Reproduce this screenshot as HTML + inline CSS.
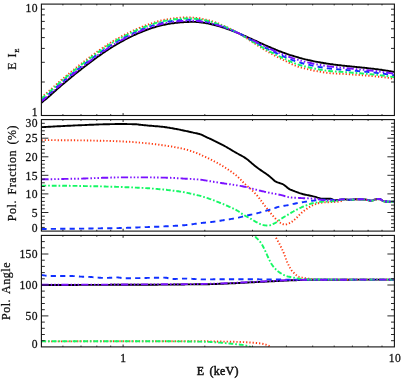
<!DOCTYPE html>
<html><head><meta charset="utf-8"><title>plot</title>
<style>
html,body{margin:0;padding:0;background:#fff;}
svg{display:block;}
.lab{filter:grayscale(1);}
text{font-family:"Liberation Serif",serif;fill:#111;}
.tl{font-size:11.6px;letter-spacing:0.35px;stroke:#111;stroke-width:0.26px;}
.tt{font-size:12px;letter-spacing:0.55px;word-spacing:2px;stroke:#111;stroke-width:0.27px;}
</style></head><body>
<svg width="415" height="386" viewBox="0 0 415 386">
<rect width="415" height="386" fill="#fff"/>
<defs><clipPath id="c1"><rect x="41.4" y="4.1" width="353.0" height="111.4"/></clipPath><clipPath id="c2"><rect x="41.4" y="119.6" width="353.0" height="111.5"/></clipPath><clipPath id="c3"><rect x="41.4" y="235.4" width="353.0" height="111.5"/></clipPath></defs>
<g stroke-linecap="butt" stroke-linejoin="round">
<path d="M41.4 102.8 L42.4 102.0 L43.4 101.1 L44.4 100.3 L45.4 99.5 L46.4 98.7 L47.4 97.8 L48.4 97.0 L49.4 96.1 L50.4 95.2 L51.4 94.3 L52.4 93.4 L53.4 92.5 L54.4 91.6 L55.4 90.7 L56.4 89.8 L57.4 88.9 L58.4 88.0 L59.4 87.2 L60.4 86.3 L61.4 85.4 L62.4 84.6 L63.4 83.7 L64.4 82.9 L65.4 82.1 L66.4 81.2 L67.4 80.4 L68.4 79.6 L69.4 78.7 L70.4 77.9 L71.4 77.1 L72.4 76.3 L73.4 75.5 L74.4 74.6 L75.4 73.8 L76.4 73.0 L77.4 72.2 L78.4 71.4 L79.4 70.6 L80.4 69.9 L81.4 69.1 L82.4 68.3 L83.4 67.5 L84.4 66.7 L85.4 66.0 L86.4 65.2 L87.4 64.4 L88.4 63.7 L89.4 62.9 L90.4 62.2 L91.4 61.4 L92.4 60.7 L93.4 59.9 L94.4 59.2 L95.4 58.5 L96.4 57.7 L97.4 57.0 L98.4 56.3 L99.4 55.6 L100.4 54.9 L101.4 54.2 L102.4 53.5 L103.4 52.8 L104.4 52.1 L105.4 51.4 L106.4 50.8 L107.4 50.1 L108.4 49.5 L109.4 48.8 L110.4 48.2 L111.4 47.5 L112.4 46.9 L113.4 46.3 L114.4 45.7 L115.4 45.1 L116.4 44.5 L117.4 43.9 L118.4 43.3 L119.4 42.8 L120.4 42.2 L121.4 41.6 L122.4 41.1 L123.4 40.6 L124.4 40.0 L125.4 39.5 L126.4 39.0 L127.4 38.5 L128.4 38.0 L129.4 37.5 L130.4 37.0 L131.4 36.5 L132.4 36.0 L133.4 35.5 L134.4 35.0 L135.4 34.6 L136.4 34.1 L137.4 33.7 L138.4 33.2 L139.4 32.8 L140.4 32.4 L141.4 32.0 L142.4 31.6 L143.4 31.2 L144.4 30.8 L145.4 30.4 L146.4 30.0 L147.4 29.6 L148.4 29.3 L149.4 28.9 L150.4 28.6 L151.4 28.2 L152.4 27.9 L153.4 27.6 L154.4 27.3 L155.4 27.0 L156.4 26.7 L157.4 26.4 L158.4 26.1 L159.4 25.8 L160.4 25.6 L161.4 25.3 L162.4 25.1 L163.4 24.9 L164.4 24.7 L165.4 24.5 L166.4 24.3 L167.4 24.1 L168.4 23.9 L169.4 23.8 L170.4 23.6 L171.4 23.4 L172.4 23.3 L173.4 23.2 L174.4 23.0 L175.4 22.9 L176.4 22.8 L177.4 22.7 L178.4 22.6 L179.4 22.5 L180.4 22.4 L181.4 22.3 L182.4 22.2 L183.4 22.2 L184.4 22.1 L185.4 22.1 L186.4 22.1 L187.4 22.0 L188.4 22.0 L189.4 21.9 L190.4 21.9 L191.4 21.9 L192.4 21.9 L193.4 21.9 L194.4 21.9 L195.4 21.9 L196.4 22.0 L197.4 22.0 L198.4 22.1 L199.4 22.2 L200.4 22.3 L201.4 22.5 L202.4 22.6 L203.4 22.7 L204.4 22.9 L205.4 23.1 L206.4 23.2 L207.4 23.4 L208.4 23.6 L209.4 23.8 L210.4 24.0 L211.4 24.3 L212.4 24.5 L213.4 24.7 L214.4 25.0 L215.4 25.2 L216.4 25.5 L217.4 25.8 L218.4 26.1 L219.4 26.4 L220.4 26.7 L221.4 27.0 L222.4 27.3 L223.4 27.6 L224.4 27.9 L225.4 28.3 L226.4 28.6 L227.4 29.0 L228.4 29.3 L229.4 29.7 L230.4 30.1 L231.4 30.4 L232.4 30.8 L233.4 31.2 L234.4 31.6 L235.4 32.0 L236.4 32.4 L237.4 32.8 L238.4 33.2 L239.4 33.6 L240.4 34.1 L241.4 34.5 L242.4 34.9 L243.4 35.4 L244.4 35.8 L245.4 36.2 L246.4 36.7 L247.4 37.1 L248.4 37.6 L249.4 38.0 L250.4 38.5 L251.4 38.9 L252.4 39.4 L253.4 39.8 L254.4 40.3 L255.4 40.7 L256.4 41.2 L257.4 41.7 L258.4 42.1 L259.4 42.6 L260.4 43.0 L261.4 43.5 L262.4 43.9 L263.4 44.4 L264.4 44.8 L265.4 45.3 L266.4 45.7 L267.4 46.1 L268.4 46.6 L269.4 47.0 L270.4 47.4 L271.4 47.9 L272.4 48.3 L273.4 48.7 L274.4 49.1 L275.4 49.5 L276.4 50.0 L277.4 50.4 L278.4 50.8 L279.4 51.2 L280.4 51.5 L281.4 51.9 L282.4 52.3 L283.4 52.7 L284.4 53.0 L285.4 53.4 L286.4 53.7 L287.4 54.1 L288.4 54.4 L289.4 54.8 L290.4 55.1 L291.4 55.4 L292.4 55.7 L293.4 56.0 L294.4 56.3 L295.4 56.6 L296.4 56.9 L297.4 57.2 L298.4 57.5 L299.4 57.8 L300.4 58.1 L301.4 58.3 L302.4 58.6 L303.4 58.9 L304.4 59.1 L305.4 59.4 L306.4 59.6 L307.4 59.8 L308.4 60.1 L309.4 60.3 L310.4 60.5 L311.4 60.7 L312.4 60.9 L313.4 61.2 L314.4 61.4 L315.4 61.6 L316.4 61.8 L317.4 61.9 L318.4 62.1 L319.4 62.3 L320.4 62.5 L321.4 62.7 L322.4 62.8 L323.4 63.0 L324.4 63.2 L325.4 63.3 L326.4 63.5 L327.4 63.6 L328.4 63.8 L329.4 63.9 L330.4 64.1 L331.4 64.2 L332.4 64.3 L333.4 64.5 L334.4 64.6 L335.4 64.7 L336.4 64.9 L337.4 65.0 L338.4 65.1 L339.4 65.2 L340.4 65.3 L341.4 65.4 L342.4 65.6 L343.4 65.7 L344.4 65.8 L345.4 65.9 L346.4 66.0 L347.4 66.1 L348.4 66.2 L349.4 66.3 L350.4 66.4 L351.4 66.5 L352.4 66.6 L353.4 66.7 L354.4 66.8 L355.4 66.9 L356.4 67.0 L357.4 67.1 L358.4 67.2 L359.4 67.3 L360.4 67.4 L361.4 67.5 L362.4 67.6 L363.4 67.7 L364.4 67.8 L365.4 67.9 L366.4 68.0 L367.4 68.1 L368.4 68.3 L369.4 68.4 L370.4 68.5 L371.4 68.6 L372.4 68.7 L373.4 68.8 L374.4 68.9 L375.4 69.1 L376.4 69.2 L377.4 69.3 L378.4 69.4 L379.4 69.6 L380.4 69.7 L381.4 69.8 L382.4 70.0 L383.4 70.1 L384.4 70.3 L385.4 70.4 L386.4 70.6 L387.4 70.7 L388.4 70.9 L389.4 71.1 L390.4 71.2 L391.4 71.4 L392.4 71.6 L393.4 71.8 L394.4 71.9" fill="none" stroke="#000000" stroke-width="1.9" clip-path="url(#c1)"/>
<path d="M41.4 97.4 L42.4 96.5 L43.4 95.7 L44.4 94.9 L45.4 94.1 L46.4 93.2 L47.4 92.4 L48.4 91.5 L49.4 90.6 L50.4 89.8 L51.4 88.9 L52.4 88.0 L53.4 87.1 L54.4 86.2 L55.4 85.3 L56.4 84.4 L57.4 83.5 L58.4 82.6 L59.4 81.7 L60.4 80.8 L61.4 79.9 L62.4 79.1 L63.4 78.3 L64.4 77.4 L65.4 76.6 L66.4 75.7 L67.4 74.9 L68.4 74.1 L69.4 73.2 L70.4 72.4 L71.4 71.6 L72.4 70.8 L73.4 70.0 L74.4 69.1 L75.4 68.3 L76.4 67.5 L77.4 66.7 L78.4 65.9 L79.4 65.1 L80.4 64.3 L81.4 63.6 L82.4 62.8 L83.4 62.0 L84.4 61.2 L85.4 60.5 L86.4 59.7 L87.4 58.9 L88.4 58.2 L89.4 57.4 L90.4 56.7 L91.4 55.9 L92.4 55.2 L93.4 54.4 L94.4 53.7 L95.4 53.0 L96.4 52.2 L97.4 51.5 L98.4 50.8 L99.4 50.1 L100.4 49.4 L101.4 48.7 L102.4 48.0 L103.4 47.3 L104.4 46.6 L105.4 46.0 L106.4 45.3 L107.4 44.6 L108.4 44.0 L109.4 43.4 L110.4 42.7 L111.4 42.1 L112.4 41.5 L113.4 40.9 L114.4 40.3 L115.4 39.7 L116.4 39.1 L117.4 38.6 L118.4 38.0 L119.4 37.5 L120.4 36.9 L121.4 36.4 L122.4 35.9 L123.4 35.4 L124.4 34.9 L125.4 34.3 L126.4 33.8 L127.4 33.4 L128.4 32.9 L129.4 32.4 L130.4 31.9 L131.4 31.4 L132.4 31.0 L133.4 30.5 L134.4 30.0 L135.4 29.6 L136.4 29.2 L137.4 28.7 L138.4 28.3 L139.4 27.9 L140.4 27.5 L141.4 27.0 L142.4 26.6 L143.4 26.2 L144.4 25.9 L145.4 25.5 L146.4 25.1 L147.4 24.7 L148.4 24.4 L149.4 24.0 L150.4 23.7 L151.4 23.4 L152.4 23.0 L153.4 22.7 L154.4 22.4 L155.4 22.1 L156.4 21.8 L157.4 21.5 L158.4 21.3 L159.4 21.0 L160.4 20.7 L161.4 20.5 L162.4 20.3 L163.4 20.0 L164.4 19.8 L165.4 19.6 L166.4 19.4 L167.4 19.3 L168.4 19.1 L169.4 18.9 L170.4 18.8 L171.4 18.6 L172.4 18.5 L173.4 18.4 L174.4 18.2 L175.4 18.1 L176.4 18.0 L177.4 17.9 L178.4 17.8 L179.4 17.7 L180.4 17.6 L181.4 17.6 L182.4 17.5 L183.4 17.5 L184.4 17.5 L185.4 17.5 L186.4 17.5 L187.4 17.5 L188.4 17.5 L189.4 17.5 L190.4 17.5 L191.4 17.5 L192.4 17.6 L193.4 17.6 L194.4 17.7 L195.4 17.8 L196.4 17.9 L197.4 18.0 L198.4 18.2 L199.4 18.3 L200.4 18.5 L201.4 18.7 L202.4 18.9 L203.4 19.1 L204.4 19.3 L205.4 19.5 L206.4 19.8 L207.4 20.0 L208.4 20.3 L209.4 20.5 L210.4 20.8 L211.4 21.1 L212.4 21.4 L213.4 21.8 L214.4 22.1 L215.4 22.4 L216.4 22.8 L217.4 23.2 L218.4 23.5 L219.4 23.9 L220.4 24.3 L221.4 24.8 L222.4 25.2 L223.4 25.6 L224.4 26.1 L225.4 26.5 L226.4 27.0 L227.4 27.5 L228.4 27.9 L229.4 28.4 L230.4 28.9 L231.4 29.4 L232.4 29.9 L233.4 30.4 L234.4 30.9 L235.4 31.5 L236.4 32.0 L237.4 32.6 L238.4 33.1 L239.4 33.7 L240.4 34.3 L241.4 34.9 L242.4 35.5 L243.4 36.1 L244.4 36.8 L245.4 37.4 L246.4 38.1 L247.4 38.7 L248.4 39.4 L249.4 40.1 L250.4 40.8 L251.4 41.4 L252.4 42.1 L253.4 42.7 L254.4 43.4 L255.4 44.0 L256.4 44.7 L257.4 45.3 L258.4 45.9 L259.4 46.6 L260.4 47.2 L261.4 47.8 L262.4 48.4 L263.4 49.1 L264.4 49.7 L265.4 50.3 L266.4 50.9 L267.4 51.5 L268.4 52.0 L269.4 52.6 L270.4 53.2 L271.4 53.7 L272.4 54.3 L273.4 54.8 L274.4 55.4 L275.4 55.9 L276.4 56.4 L277.4 57.0 L278.4 57.5 L279.4 58.0 L280.4 58.5 L281.4 59.0 L282.4 59.5 L283.4 60.0 L284.4 60.5 L285.4 61.0 L286.4 61.5 L287.4 62.0 L288.4 62.5 L289.4 63.0 L290.4 63.4 L291.4 63.9 L292.4 64.4 L293.4 64.8 L294.4 65.3 L295.4 65.7 L296.4 66.1 L297.4 66.4 L298.4 66.8 L299.4 67.1 L300.4 67.4 L301.4 67.6 L302.4 67.9 L303.4 68.2 L304.4 68.4 L305.4 68.7 L306.4 68.9 L307.4 69.1 L308.4 69.4 L309.4 69.6 L310.4 69.8 L311.4 70.0 L312.4 70.2 L313.4 70.5 L314.4 70.7 L315.4 70.9 L316.4 71.1 L317.4 71.2 L318.4 71.4 L319.4 71.6 L320.4 71.8 L321.4 72.0 L322.4 72.1 L323.4 72.3 L324.4 72.5 L325.4 72.6 L326.4 72.7 L327.4 72.9 L328.4 73.0 L329.4 73.1 L330.4 73.2 L331.4 73.3 L332.4 73.3 L333.4 73.4 L334.4 73.5 L335.4 73.5 L336.4 73.6 L337.4 73.6 L338.4 73.7 L339.4 73.7 L340.4 73.8 L341.4 73.8 L342.4 73.8 L343.4 73.9 L344.4 73.9 L345.4 74.0 L346.4 74.1 L347.4 74.1 L348.4 74.2 L349.4 74.3 L350.4 74.3 L351.4 74.4 L352.4 74.5 L353.4 74.5 L354.4 74.6 L355.4 74.7 L356.4 74.8 L357.4 74.8 L358.4 74.9 L359.4 75.0 L360.4 75.1 L361.4 75.2 L362.4 75.2 L363.4 75.3 L364.4 75.4 L365.4 75.5 L366.4 75.6 L367.4 75.7 L368.4 75.7 L369.4 75.8 L370.4 75.9 L371.4 76.0 L372.4 76.1 L373.4 76.2 L374.4 76.3 L375.4 76.4 L376.4 76.5 L377.4 76.6 L378.4 76.7 L379.4 76.8 L380.4 76.9 L381.4 77.0 L382.4 77.1 L383.4 77.3 L384.4 77.4 L385.4 77.5 L386.4 77.7 L387.4 77.8 L388.4 77.9 L389.4 78.1 L390.4 78.2 L391.4 78.4 L392.4 78.5 L393.4 78.7 L394.4 78.8" fill="none" stroke="#ff3a10" stroke-width="1.9" stroke-dasharray="1.25 2.0" clip-path="url(#c1)"/>
<path d="M41.4 100.1 L42.4 99.2 L43.4 98.4 L44.4 97.6 L45.4 96.8 L46.4 95.9 L47.4 95.1 L48.4 94.2 L49.4 93.4 L50.4 92.5 L51.4 91.6 L52.4 90.7 L53.4 89.8 L54.4 88.9 L55.4 88.0 L56.4 87.1 L57.4 86.2 L58.4 85.3 L59.4 84.4 L60.4 83.5 L61.4 82.7 L62.4 81.8 L63.4 81.0 L64.4 80.2 L65.4 79.3 L66.4 78.5 L67.4 77.7 L68.4 76.8 L69.4 76.0 L70.4 75.2 L71.4 74.3 L72.4 73.5 L73.4 72.7 L74.4 71.9 L75.4 71.1 L76.4 70.3 L77.4 69.5 L78.4 68.7 L79.4 67.9 L80.4 67.1 L81.4 66.3 L82.4 65.5 L83.4 64.8 L84.4 64.0 L85.4 63.2 L86.4 62.4 L87.4 61.7 L88.4 60.9 L89.4 60.2 L90.4 59.4 L91.4 58.7 L92.4 57.9 L93.4 57.2 L94.4 56.5 L95.4 55.7 L96.4 55.0 L97.4 54.3 L98.4 53.6 L99.4 52.8 L100.4 52.1 L101.4 51.4 L102.4 50.7 L103.4 50.0 L104.4 49.4 L105.4 48.7 L106.4 48.0 L107.4 47.4 L108.4 46.7 L109.4 46.1 L110.4 45.5 L111.4 44.8 L112.4 44.2 L113.4 43.6 L114.4 43.0 L115.4 42.4 L116.4 41.8 L117.4 41.2 L118.4 40.7 L119.4 40.1 L120.4 39.6 L121.4 39.0 L122.4 38.5 L123.4 38.0 L124.4 37.4 L125.4 36.9 L126.4 36.4 L127.4 35.9 L128.4 35.4 L129.4 34.9 L130.4 34.4 L131.4 34.0 L132.4 33.5 L133.4 33.0 L134.4 32.5 L135.4 32.1 L136.4 31.6 L137.4 31.2 L138.4 30.8 L139.4 30.3 L140.4 29.9 L141.4 29.5 L142.4 29.1 L143.4 28.7 L144.4 28.3 L145.4 27.9 L146.4 27.6 L147.4 27.2 L148.4 26.8 L149.4 26.5 L150.4 26.1 L151.4 25.8 L152.4 25.5 L153.4 25.2 L154.4 24.8 L155.4 24.5 L156.4 24.2 L157.4 24.0 L158.4 23.7 L159.4 23.4 L160.4 23.2 L161.4 22.9 L162.4 22.7 L163.4 22.5 L164.4 22.3 L165.4 22.0 L166.4 21.9 L167.4 21.7 L168.4 21.5 L169.4 21.3 L170.4 21.2 L171.4 21.0 L172.4 20.9 L173.4 20.8 L174.4 20.6 L175.4 20.5 L176.4 20.4 L177.4 20.3 L178.4 20.2 L179.4 20.1 L180.4 20.0 L181.4 19.9 L182.4 19.9 L183.4 19.8 L184.4 19.8 L185.4 19.8 L186.4 19.8 L187.4 19.7 L188.4 19.7 L189.4 19.7 L190.4 19.7 L191.4 19.7 L192.4 19.7 L193.4 19.8 L194.4 19.8 L195.4 19.9 L196.4 19.9 L197.4 20.0 L198.4 20.2 L199.4 20.3 L200.4 20.4 L201.4 20.6 L202.4 20.7 L203.4 20.9 L204.4 21.1 L205.4 21.3 L206.4 21.5 L207.4 21.7 L208.4 21.9 L209.4 22.2 L210.4 22.4 L211.4 22.7 L212.4 23.0 L213.4 23.2 L214.4 23.5 L215.4 23.8 L216.4 24.2 L217.4 24.5 L218.4 24.8 L219.4 25.1 L220.4 25.5 L221.4 25.9 L222.4 26.2 L223.4 26.6 L224.4 27.0 L225.4 27.4 L226.4 27.8 L227.4 28.2 L228.4 28.6 L229.4 29.1 L230.4 29.5 L231.4 29.9 L232.4 30.4 L233.4 30.8 L234.4 31.3 L235.4 31.7 L236.4 32.2 L237.4 32.7 L238.4 33.2 L239.4 33.7 L240.4 34.2 L241.4 34.7 L242.4 35.2 L243.4 35.8 L244.4 36.3 L245.4 36.8 L246.4 37.4 L247.4 37.9 L248.4 38.5 L249.4 39.1 L250.4 39.6 L251.4 40.2 L252.4 40.7 L253.4 41.3 L254.4 41.8 L255.4 42.4 L256.4 42.9 L257.4 43.5 L258.4 44.0 L259.4 44.6 L260.4 45.1 L261.4 45.6 L262.4 46.2 L263.4 46.7 L264.4 47.2 L265.4 47.8 L266.4 48.3 L267.4 48.8 L268.4 49.3 L269.4 49.8 L270.4 50.3 L271.4 50.8 L272.4 51.3 L273.4 51.8 L274.4 52.3 L275.4 52.7 L276.4 53.2 L277.4 53.7 L278.4 54.1 L279.4 54.6 L280.4 55.0 L281.4 55.5 L282.4 55.9 L283.4 56.3 L284.4 56.8 L285.4 57.2 L286.4 57.6 L287.4 58.0 L288.4 58.4 L289.4 58.9 L290.4 59.3 L291.4 59.7 L292.4 60.1 L293.4 60.4 L294.4 60.8 L295.4 61.2 L296.4 61.5 L297.4 61.8 L298.4 62.1 L299.4 62.4 L300.4 62.7 L301.4 63.0 L302.4 63.2 L303.4 63.5 L304.4 63.8 L305.4 64.0 L306.4 64.2 L307.4 64.5 L308.4 64.7 L309.4 64.9 L310.4 65.2 L311.4 65.4 L312.4 65.6 L313.4 65.8 L314.4 66.0 L315.4 66.2 L316.4 66.4 L317.4 66.6 L318.4 66.8 L319.4 67.0 L320.4 67.1 L321.4 67.3 L322.4 67.5 L323.4 67.7 L324.4 67.8 L325.4 68.0 L326.4 68.1 L327.4 68.3 L328.4 68.4 L329.4 68.5 L330.4 68.6 L331.4 68.7 L332.4 68.8 L333.4 68.9 L334.4 69.0 L335.4 69.1 L336.4 69.2 L337.4 69.3 L338.4 69.4 L339.4 69.5 L340.4 69.5 L341.4 69.6 L342.4 69.7 L343.4 69.8 L344.4 69.9 L345.4 69.9 L346.4 70.0 L347.4 70.1 L348.4 70.2 L349.4 70.3 L350.4 70.4 L351.4 70.5 L352.4 70.5 L353.4 70.6 L354.4 70.7 L355.4 70.8 L356.4 70.9 L357.4 71.0 L358.4 71.1 L359.4 71.2 L360.4 71.2 L361.4 71.3 L362.4 71.4 L363.4 71.5 L364.4 71.6 L365.4 71.7 L366.4 71.8 L367.4 71.9 L368.4 72.0 L369.4 72.1 L370.4 72.2 L371.4 72.3 L372.4 72.4 L373.4 72.5 L374.4 72.6 L375.4 72.7 L376.4 72.8 L377.4 73.0 L378.4 73.1 L379.4 73.2 L380.4 73.3 L381.4 73.4 L382.4 73.6 L383.4 73.7 L384.4 73.8 L385.4 74.0 L386.4 74.1 L387.4 74.3 L388.4 74.4 L389.4 74.6 L390.4 74.7 L391.4 74.9 L392.4 75.1 L393.4 75.2 L394.4 75.4" fill="none" stroke="#1030ff" stroke-width="1.9" stroke-dasharray="5.2 4.2" clip-path="url(#c1)"/>
<path d="M41.4 98.6 L42.4 97.8 L43.4 97.0 L44.4 96.1 L45.4 95.3 L46.4 94.5 L47.4 93.6 L48.4 92.8 L49.4 91.9 L50.4 91.0 L51.4 90.1 L52.4 89.2 L53.4 88.3 L54.4 87.4 L55.4 86.5 L56.4 85.6 L57.4 84.7 L58.4 83.8 L59.4 82.9 L60.4 82.1 L61.4 81.2 L62.4 80.4 L63.4 79.5 L64.4 78.7 L65.4 77.8 L66.4 77.0 L67.4 76.2 L68.4 75.3 L69.4 74.5 L70.4 73.7 L71.4 72.9 L72.4 72.0 L73.4 71.2 L74.4 70.4 L75.4 69.6 L76.4 68.8 L77.4 68.0 L78.4 67.2 L79.4 66.4 L80.4 65.6 L81.4 64.8 L82.4 64.0 L83.4 63.3 L84.4 62.5 L85.4 61.7 L86.4 61.0 L87.4 60.2 L88.4 59.4 L89.4 58.7 L90.4 57.9 L91.4 57.2 L92.4 56.4 L93.4 55.7 L94.4 55.0 L95.4 54.2 L96.4 53.5 L97.4 52.8 L98.4 52.1 L99.4 51.4 L100.4 50.6 L101.4 49.9 L102.4 49.2 L103.4 48.6 L104.4 47.9 L105.4 47.2 L106.4 46.6 L107.4 45.9 L108.4 45.3 L109.4 44.6 L110.4 44.0 L111.4 43.4 L112.4 42.8 L113.4 42.1 L114.4 41.5 L115.4 41.0 L116.4 40.4 L117.4 39.8 L118.4 39.2 L119.4 38.7 L120.4 38.2 L121.4 37.6 L122.4 37.1 L123.4 36.6 L124.4 36.0 L125.4 35.5 L126.4 35.0 L127.4 34.5 L128.4 34.0 L129.4 33.6 L130.4 33.1 L131.4 32.6 L132.4 32.1 L133.4 31.7 L134.4 31.2 L135.4 30.7 L136.4 30.3 L137.4 29.9 L138.4 29.4 L139.4 29.0 L140.4 28.6 L141.4 28.2 L142.4 27.8 L143.4 27.4 L144.4 27.0 L145.4 26.6 L146.4 26.2 L147.4 25.9 L148.4 25.5 L149.4 25.2 L150.4 24.8 L151.4 24.5 L152.4 24.2 L153.4 23.8 L154.4 23.5 L155.4 23.2 L156.4 22.9 L157.4 22.6 L158.4 22.4 L159.4 22.1 L160.4 21.9 L161.4 21.6 L162.4 21.4 L163.4 21.2 L164.4 20.9 L165.4 20.7 L166.4 20.6 L167.4 20.4 L168.4 20.2 L169.4 20.0 L170.4 19.9 L171.4 19.7 L172.4 19.6 L173.4 19.5 L174.4 19.3 L175.4 19.2 L176.4 19.1 L177.4 19.0 L178.4 18.9 L179.4 18.8 L180.4 18.7 L181.4 18.7 L182.4 18.6 L183.4 18.6 L184.4 18.5 L185.4 18.5 L186.4 18.5 L187.4 18.5 L188.4 18.5 L189.4 18.5 L190.4 18.5 L191.4 18.5 L192.4 18.6 L193.4 18.6 L194.4 18.7 L195.4 18.7 L196.4 18.8 L197.4 18.9 L198.4 19.1 L199.4 19.2 L200.4 19.4 L201.4 19.6 L202.4 19.7 L203.4 19.9 L204.4 20.1 L205.4 20.3 L206.4 20.6 L207.4 20.8 L208.4 21.0 L209.4 21.3 L210.4 21.6 L211.4 21.8 L212.4 22.1 L213.4 22.4 L214.4 22.8 L215.4 23.1 L216.4 23.4 L217.4 23.8 L218.4 24.1 L219.4 24.5 L220.4 24.9 L221.4 25.3 L222.4 25.7 L223.4 26.1 L224.4 26.5 L225.4 26.9 L226.4 27.4 L227.4 27.8 L228.4 28.3 L229.4 28.7 L230.4 29.2 L231.4 29.6 L232.4 30.1 L233.4 30.6 L234.4 31.1 L235.4 31.6 L236.4 32.1 L237.4 32.6 L238.4 33.2 L239.4 33.7 L240.4 34.2 L241.4 34.8 L242.4 35.4 L243.4 36.0 L244.4 36.6 L245.4 37.2 L246.4 37.8 L247.4 38.4 L248.4 39.0 L249.4 39.6 L250.4 40.2 L251.4 40.8 L252.4 41.5 L253.4 42.1 L254.4 42.7 L255.4 43.3 L256.4 43.9 L257.4 44.5 L258.4 45.1 L259.4 45.6 L260.4 46.2 L261.4 46.8 L262.4 47.4 L263.4 48.0 L264.4 48.5 L265.4 49.1 L266.4 49.7 L267.4 50.2 L268.4 50.8 L269.4 51.3 L270.4 51.9 L271.4 52.4 L272.4 52.9 L273.4 53.4 L274.4 53.9 L275.4 54.5 L276.4 55.0 L277.4 55.5 L278.4 55.9 L279.4 56.4 L280.4 56.9 L281.4 57.4 L282.4 57.8 L283.4 58.3 L284.4 58.8 L285.4 59.2 L286.4 59.7 L287.4 60.2 L288.4 60.6 L289.4 61.1 L290.4 61.5 L291.4 62.0 L292.4 62.4 L293.4 62.8 L294.4 63.2 L295.4 63.6 L296.4 64.0 L297.4 64.3 L298.4 64.6 L299.4 65.0 L300.4 65.2 L301.4 65.5 L302.4 65.8 L303.4 66.0 L304.4 66.3 L305.4 66.5 L306.4 66.8 L307.4 67.0 L308.4 67.2 L309.4 67.5 L310.4 67.7 L311.4 67.9 L312.4 68.1 L313.4 68.3 L314.4 68.5 L315.4 68.7 L316.4 68.9 L317.4 69.1 L318.4 69.3 L319.4 69.5 L320.4 69.7 L321.4 69.8 L322.4 70.0 L323.4 70.2 L324.4 70.3 L325.4 70.5 L326.4 70.6 L327.4 70.7 L328.4 70.9 L329.4 71.0 L330.4 71.1 L331.4 71.2 L332.4 71.3 L333.4 71.3 L334.4 71.4 L335.4 71.5 L336.4 71.6 L337.4 71.6 L338.4 71.7 L339.4 71.8 L340.4 71.8 L341.4 71.9 L342.4 71.9 L343.4 72.0 L344.4 72.1 L345.4 72.1 L346.4 72.2 L347.4 72.3 L348.4 72.3 L349.4 72.4 L350.4 72.5 L351.4 72.6 L352.4 72.7 L353.4 72.7 L354.4 72.8 L355.4 72.9 L356.4 73.0 L357.4 73.1 L358.4 73.1 L359.4 73.2 L360.4 73.3 L361.4 73.4 L362.4 73.5 L363.4 73.6 L364.4 73.7 L365.4 73.7 L366.4 73.8 L367.4 73.9 L368.4 74.0 L369.4 74.1 L370.4 74.2 L371.4 74.3 L372.4 74.4 L373.4 74.5 L374.4 74.6 L375.4 74.7 L376.4 74.8 L377.4 74.9 L378.4 75.0 L379.4 75.1 L380.4 75.3 L381.4 75.4 L382.4 75.5 L383.4 75.6 L384.4 75.8 L385.4 75.9 L386.4 76.0 L387.4 76.2 L388.4 76.3 L389.4 76.5 L390.4 76.6 L391.4 76.8 L392.4 76.9 L393.4 77.1 L394.4 77.3" fill="none" stroke="#14f864" stroke-width="1.9" stroke-dasharray="4.8 1.95 1.7 1.95" clip-path="url(#c1)"/>
<path d="M41.4 101.3 L42.4 100.5 L43.4 99.7 L44.4 98.9 L45.4 98.0 L46.4 97.2 L47.4 96.4 L48.4 95.5 L49.4 94.6 L50.4 93.7 L51.4 92.9 L52.4 92.0 L53.4 91.1 L54.4 90.2 L55.4 89.2 L56.4 88.3 L57.4 87.4 L58.4 86.6 L59.4 85.7 L60.4 84.8 L61.4 83.9 L62.4 83.1 L63.4 82.3 L64.4 81.4 L65.4 80.6 L66.4 79.8 L67.4 78.9 L68.4 78.1 L69.4 77.3 L70.4 76.4 L71.4 75.6 L72.4 74.8 L73.4 74.0 L74.4 73.2 L75.4 72.3 L76.4 71.5 L77.4 70.7 L78.4 69.9 L79.4 69.2 L80.4 68.4 L81.4 67.6 L82.4 66.8 L83.4 66.0 L84.4 65.3 L85.4 64.5 L86.4 63.7 L87.4 63.0 L88.4 62.2 L89.4 61.4 L90.4 60.7 L91.4 59.9 L92.4 59.2 L93.4 58.5 L94.4 57.7 L95.4 57.0 L96.4 56.3 L97.4 55.5 L98.4 54.8 L99.4 54.1 L100.4 53.4 L101.4 52.7 L102.4 52.0 L103.4 51.3 L104.4 50.6 L105.4 50.0 L106.4 49.3 L107.4 48.6 L108.4 48.0 L109.4 47.3 L110.4 46.7 L111.4 46.1 L112.4 45.5 L113.4 44.8 L114.4 44.2 L115.4 43.6 L116.4 43.0 L117.4 42.5 L118.4 41.9 L119.4 41.3 L120.4 40.8 L121.4 40.2 L122.4 39.7 L123.4 39.2 L124.4 38.6 L125.4 38.1 L126.4 37.6 L127.4 37.1 L128.4 36.6 L129.4 36.1 L130.4 35.6 L131.4 35.1 L132.4 34.6 L133.4 34.2 L134.4 33.7 L135.4 33.2 L136.4 32.8 L137.4 32.3 L138.4 31.9 L139.4 31.5 L140.4 31.1 L141.4 30.6 L142.4 30.2 L143.4 29.8 L144.4 29.4 L145.4 29.1 L146.4 28.7 L147.4 28.3 L148.4 28.0 L149.4 27.6 L150.4 27.3 L151.4 26.9 L152.4 26.6 L153.4 26.3 L154.4 26.0 L155.4 25.7 L156.4 25.4 L157.4 25.1 L158.4 24.8 L159.4 24.5 L160.4 24.3 L161.4 24.0 L162.4 23.8 L163.4 23.6 L164.4 23.4 L165.4 23.2 L166.4 23.0 L167.4 22.8 L168.4 22.6 L169.4 22.4 L170.4 22.3 L171.4 22.1 L172.4 22.0 L173.4 21.9 L174.4 21.7 L175.4 21.6 L176.4 21.5 L177.4 21.4 L178.4 21.3 L179.4 21.2 L180.4 21.1 L181.4 21.0 L182.4 21.0 L183.4 20.9 L184.4 20.9 L185.4 20.8 L186.4 20.8 L187.4 20.8 L188.4 20.8 L189.4 20.7 L190.4 20.7 L191.4 20.7 L192.4 20.7 L193.4 20.7 L194.4 20.8 L195.4 20.8 L196.4 20.9 L197.4 21.0 L198.4 21.1 L199.4 21.2 L200.4 21.3 L201.4 21.5 L202.4 21.6 L203.4 21.8 L204.4 21.9 L205.4 22.1 L206.4 22.3 L207.4 22.5 L208.4 22.7 L209.4 22.9 L210.4 23.2 L211.4 23.4 L212.4 23.7 L213.4 23.9 L214.4 24.2 L215.4 24.5 L216.4 24.8 L217.4 25.1 L218.4 25.4 L219.4 25.7 L220.4 26.0 L221.4 26.4 L222.4 26.7 L223.4 27.1 L224.4 27.4 L225.4 27.8 L226.4 28.2 L227.4 28.6 L228.4 28.9 L229.4 29.3 L230.4 29.7 L231.4 30.2 L232.4 30.6 L233.4 31.0 L234.4 31.4 L235.4 31.9 L236.4 32.3 L237.4 32.7 L238.4 33.2 L239.4 33.7 L240.4 34.1 L241.4 34.6 L242.4 35.1 L243.4 35.6 L244.4 36.1 L245.4 36.6 L246.4 37.1 L247.4 37.6 L248.4 38.1 L249.4 38.6 L250.4 39.1 L251.4 39.6 L252.4 40.1 L253.4 40.6 L254.4 41.1 L255.4 41.6 L256.4 42.1 L257.4 42.6 L258.4 43.1 L259.4 43.6 L260.4 44.1 L261.4 44.6 L262.4 45.1 L263.4 45.6 L264.4 46.1 L265.4 46.6 L266.4 47.1 L267.4 47.6 L268.4 48.1 L269.4 48.5 L270.4 49.0 L271.4 49.5 L272.4 49.9 L273.4 50.4 L274.4 50.8 L275.4 51.3 L276.4 51.7 L277.4 52.1 L278.4 52.6 L279.4 53.0 L280.4 53.4 L281.4 53.8 L282.4 54.2 L283.4 54.6 L284.4 55.0 L285.4 55.4 L286.4 55.8 L287.4 56.2 L288.4 56.6 L289.4 57.0 L290.4 57.3 L291.4 57.7 L292.4 58.1 L293.4 58.4 L294.4 58.8 L295.4 59.1 L296.4 59.4 L297.4 59.7 L298.4 60.0 L299.4 60.3 L300.4 60.6 L301.4 60.8 L302.4 61.1 L303.4 61.4 L304.4 61.6 L305.4 61.9 L306.4 62.1 L307.4 62.3 L308.4 62.6 L309.4 62.8 L310.4 63.0 L311.4 63.2 L312.4 63.5 L313.4 63.7 L314.4 63.9 L315.4 64.1 L316.4 64.3 L317.4 64.5 L318.4 64.6 L319.4 64.8 L320.4 65.0 L321.4 65.2 L322.4 65.3 L323.4 65.5 L324.4 65.7 L325.4 65.8 L326.4 66.0 L327.4 66.1 L328.4 66.3 L329.4 66.4 L330.4 66.5 L331.4 66.6 L332.4 66.8 L333.4 66.9 L334.4 67.0 L335.4 67.1 L336.4 67.2 L337.4 67.3 L338.4 67.4 L339.4 67.5 L340.4 67.6 L341.4 67.7 L342.4 67.8 L343.4 67.9 L344.4 68.0 L345.4 68.1 L346.4 68.2 L347.4 68.3 L348.4 68.4 L349.4 68.5 L350.4 68.5 L351.4 68.6 L352.4 68.7 L353.4 68.8 L354.4 68.9 L355.4 69.0 L356.4 69.1 L357.4 69.2 L358.4 69.3 L359.4 69.4 L360.4 69.5 L361.4 69.6 L362.4 69.7 L363.4 69.8 L364.4 69.9 L365.4 70.0 L366.4 70.1 L367.4 70.2 L368.4 70.3 L369.4 70.4 L370.4 70.5 L371.4 70.6 L372.4 70.7 L373.4 70.8 L374.4 70.9 L375.4 71.0 L376.4 71.2 L377.4 71.3 L378.4 71.4 L379.4 71.5 L380.4 71.7 L381.4 71.8 L382.4 71.9 L383.4 72.1 L384.4 72.2 L385.4 72.3 L386.4 72.5 L387.4 72.6 L388.4 72.8 L389.4 73.0 L390.4 73.1 L391.4 73.3 L392.4 73.5 L393.4 73.6 L394.4 73.8" fill="none" stroke="#7a10ff" stroke-width="1.9" stroke-dasharray="7.2 2.1 1.5 2.0 1.5 2.0 1.5 2.1" clip-path="url(#c1)"/>
<path d="M41.4 127.2 L42.4 127.1 L43.4 127.1 L44.4 127.0 L45.4 127.0 L46.4 126.9 L47.4 126.9 L48.4 126.8 L49.4 126.8 L50.4 126.7 L51.4 126.6 L52.4 126.6 L53.4 126.5 L54.4 126.5 L55.4 126.4 L56.4 126.4 L57.4 126.3 L58.4 126.3 L59.4 126.2 L60.4 126.2 L61.4 126.1 L62.4 126.1 L63.4 126.0 L64.4 126.0 L65.4 125.9 L66.4 125.9 L67.4 125.8 L68.4 125.8 L69.4 125.7 L70.4 125.7 L71.4 125.6 L72.4 125.6 L73.4 125.5 L74.4 125.5 L75.4 125.4 L76.4 125.4 L77.4 125.4 L78.4 125.3 L79.4 125.3 L80.4 125.2 L81.4 125.2 L82.4 125.1 L83.4 125.1 L84.4 125.1 L85.4 125.0 L86.4 125.0 L87.4 124.9 L88.4 124.9 L89.4 124.8 L90.4 124.8 L91.4 124.7 L92.4 124.7 L93.4 124.7 L94.4 124.6 L95.4 124.6 L96.4 124.5 L97.4 124.5 L98.4 124.5 L99.4 124.4 L100.4 124.4 L101.4 124.4 L102.4 124.4 L103.4 124.3 L104.4 124.3 L105.4 124.3 L106.4 124.3 L107.4 124.2 L108.4 124.2 L109.4 124.2 L110.4 124.1 L111.4 124.1 L112.4 124.1 L113.4 124.1 L114.4 124.1 L115.4 124.0 L116.4 124.0 L117.4 124.0 L118.4 124.0 L119.4 124.0 L120.4 124.0 L121.4 124.0 L122.4 124.0 L123.4 124.0 L124.4 124.0 L125.4 124.0 L126.4 124.0 L127.4 124.1 L128.4 124.1 L129.4 124.1 L130.4 124.1 L131.4 124.1 L132.4 124.2 L133.4 124.2 L134.4 124.2 L135.4 124.3 L136.4 124.3 L137.4 124.4 L138.4 124.5 L139.4 124.7 L140.4 124.8 L141.4 124.9 L142.4 125.0 L143.4 125.1 L144.4 125.2 L145.4 125.3 L146.4 125.4 L147.4 125.5 L148.4 125.6 L149.4 125.7 L150.4 125.8 L151.4 125.8 L152.4 125.9 L153.4 126.0 L154.4 126.1 L155.4 126.2 L156.4 126.2 L157.4 126.3 L158.4 126.4 L159.4 126.5 L160.4 126.6 L161.4 126.7 L162.4 126.8 L163.4 126.9 L164.4 127.0 L165.4 127.2 L166.4 127.3 L167.4 127.5 L168.4 127.6 L169.4 127.8 L170.4 128.0 L171.4 128.1 L172.4 128.3 L173.4 128.5 L174.4 128.7 L175.4 128.9 L176.4 129.0 L177.4 129.2 L178.4 129.4 L179.4 129.6 L180.4 129.8 L181.4 130.1 L182.4 130.3 L183.4 130.5 L184.4 130.7 L185.4 130.9 L186.4 131.1 L187.4 131.3 L188.4 131.5 L189.4 131.8 L190.4 132.0 L191.4 132.2 L192.4 132.4 L193.4 132.7 L194.4 132.9 L195.4 133.1 L196.4 133.3 L197.4 133.5 L198.4 133.8 L199.4 134.0 L200.4 134.3 L201.4 134.7 L202.4 135.2 L203.4 135.7 L204.4 136.2 L205.4 136.6 L206.4 137.1 L207.4 137.6 L208.4 138.0 L209.4 138.5 L210.4 138.9 L211.4 139.4 L212.4 139.9 L213.4 140.4 L214.4 140.9 L215.4 141.3 L216.4 141.8 L217.4 142.3 L218.4 142.8 L219.4 143.3 L220.4 143.8 L221.4 144.3 L222.4 144.8 L223.4 145.4 L224.4 145.9 L225.4 146.5 L226.4 147.0 L227.4 147.6 L228.4 148.2 L229.4 148.8 L230.4 149.4 L231.4 150.0 L232.4 150.6 L233.4 151.2 L234.4 151.8 L235.4 152.4 L236.4 152.9 L237.4 153.5 L238.4 154.0 L239.4 154.6 L240.4 155.1 L241.4 155.6 L242.4 156.2 L243.4 156.8 L244.4 157.4 L245.4 158.1 L246.4 158.8 L247.4 159.5 L248.4 160.3 L249.4 161.2 L250.4 162.0 L251.4 162.9 L252.4 163.7 L253.4 164.6 L254.4 165.4 L255.4 166.2 L256.4 167.0 L257.4 167.8 L258.4 168.5 L259.4 169.2 L260.4 169.9 L261.4 170.6 L262.4 171.3 L263.4 172.0 L264.4 172.6 L265.4 173.3 L266.4 174.0 L267.4 174.7 L268.4 175.4 L269.4 176.2 L270.4 177.1 L271.4 178.0 L272.4 178.9 L273.4 179.8 L274.4 180.7 L275.4 181.4 L276.4 181.9 L277.4 182.4 L278.4 182.7 L279.4 183.0 L280.4 183.3 L281.4 183.7 L282.4 184.0 L283.4 184.5 L284.4 185.2 L285.4 186.0 L286.4 186.8 L287.4 187.7 L288.4 188.4 L289.4 189.1 L290.4 189.6 L291.4 190.0 L292.4 190.4 L293.4 190.8 L294.4 191.2 L295.4 191.6 L296.4 191.9 L297.4 192.3 L298.4 192.7 L299.4 193.1 L300.4 193.4 L301.4 193.7 L302.4 194.0 L303.4 194.3 L304.4 194.5 L305.4 194.7 L306.4 194.9 L307.4 195.1 L308.4 195.3 L309.4 195.5 L310.4 195.7 L311.4 195.9 L312.4 196.1 L313.4 196.4 L314.4 196.6 L315.4 196.9 L316.4 197.2 L317.4 197.6 L318.4 197.9 L319.4 198.2 L320.4 198.5 L321.4 198.6 L322.4 198.7 L323.4 198.7 L324.4 198.7 L325.4 198.7 L326.4 198.7 L327.4 198.7 L328.4 198.7 L329.4 198.7 L330.4 198.7 L331.4 199.0 L332.4 199.4 L333.4 199.8 L334.4 200.1 L335.4 200.2 L336.4 200.1 L337.4 200.0 L338.4 199.9 L339.4 199.8 L340.4 199.6 L341.4 199.5 L342.4 199.4 L343.4 199.3 L344.4 199.3 L345.4 199.4 L346.4 199.5 L347.4 199.6 L348.4 199.7 L349.4 199.8 L350.4 199.8 L351.4 199.7 L352.4 199.7 L353.4 199.5 L354.4 199.4 L355.4 199.3 L356.4 199.2 L357.4 199.2 L358.4 199.2 L359.4 199.2 L360.4 199.3 L361.4 199.3 L362.4 199.3 L363.4 199.4 L364.4 199.5 L365.4 199.5 L366.4 199.7 L367.4 199.9 L368.4 200.2 L369.4 200.4 L370.4 200.6 L371.4 200.6 L372.4 200.4 L373.4 200.1 L374.4 199.7 L375.4 199.4 L376.4 199.2 L377.4 199.1 L378.4 199.0 L379.4 199.0 L380.4 199.2 L381.4 199.8 L382.4 200.5 L383.4 201.1 L384.4 201.4 L385.4 201.5 L386.4 201.5 L387.4 201.6 L388.4 201.6 L389.4 201.6 L390.4 201.6 L391.4 201.6 L392.4 201.6 L393.4 201.6 L394.4 201.6" fill="none" stroke="#000000" stroke-width="1.9" clip-path="url(#c2)"/>
<path d="M41.4 140.1 L42.4 140.1 L43.4 140.1 L44.4 140.1 L45.4 140.1 L46.4 140.1 L47.4 140.1 L48.4 140.1 L49.4 140.1 L50.4 140.1 L51.4 140.1 L52.4 140.1 L53.4 140.1 L54.4 140.1 L55.4 140.1 L56.4 140.2 L57.4 140.2 L58.4 140.2 L59.4 140.2 L60.4 140.2 L61.4 140.2 L62.4 140.2 L63.4 140.2 L64.4 140.2 L65.4 140.2 L66.4 140.2 L67.4 140.3 L68.4 140.3 L69.4 140.3 L70.4 140.3 L71.4 140.3 L72.4 140.3 L73.4 140.3 L74.4 140.3 L75.4 140.3 L76.4 140.3 L77.4 140.4 L78.4 140.4 L79.4 140.4 L80.4 140.4 L81.4 140.4 L82.4 140.4 L83.4 140.4 L84.4 140.4 L85.4 140.5 L86.4 140.5 L87.4 140.5 L88.4 140.5 L89.4 140.5 L90.4 140.5 L91.4 140.6 L92.4 140.6 L93.4 140.6 L94.4 140.6 L95.4 140.6 L96.4 140.7 L97.4 140.7 L98.4 140.7 L99.4 140.7 L100.4 140.8 L101.4 140.8 L102.4 140.8 L103.4 140.8 L104.4 140.9 L105.4 140.9 L106.4 140.9 L107.4 140.9 L108.4 141.0 L109.4 141.0 L110.4 141.0 L111.4 141.1 L112.4 141.1 L113.4 141.1 L114.4 141.2 L115.4 141.2 L116.4 141.2 L117.4 141.3 L118.4 141.3 L119.4 141.3 L120.4 141.4 L121.4 141.4 L122.4 141.5 L123.4 141.5 L124.4 141.6 L125.4 141.6 L126.4 141.7 L127.4 141.7 L128.4 141.8 L129.4 141.8 L130.4 141.9 L131.4 142.0 L132.4 142.0 L133.4 142.1 L134.4 142.2 L135.4 142.3 L136.4 142.4 L137.4 142.4 L138.4 142.5 L139.4 142.6 L140.4 142.7 L141.4 142.8 L142.4 142.9 L143.4 142.9 L144.4 143.0 L145.4 143.1 L146.4 143.2 L147.4 143.3 L148.4 143.4 L149.4 143.5 L150.4 143.6 L151.4 143.8 L152.4 143.9 L153.4 144.0 L154.4 144.1 L155.4 144.2 L156.4 144.4 L157.4 144.5 L158.4 144.6 L159.4 144.8 L160.4 144.9 L161.4 145.0 L162.4 145.2 L163.4 145.3 L164.4 145.5 L165.4 145.6 L166.4 145.8 L167.4 145.9 L168.4 146.1 L169.4 146.2 L170.4 146.4 L171.4 146.5 L172.4 146.7 L173.4 146.9 L174.4 147.1 L175.4 147.2 L176.4 147.4 L177.4 147.6 L178.4 147.8 L179.4 148.0 L180.4 148.2 L181.4 148.4 L182.4 148.6 L183.4 148.9 L184.4 149.1 L185.4 149.3 L186.4 149.6 L187.4 149.9 L188.4 150.2 L189.4 150.5 L190.4 150.8 L191.4 151.1 L192.4 151.4 L193.4 151.8 L194.4 152.1 L195.4 152.5 L196.4 152.9 L197.4 153.4 L198.4 153.8 L199.4 154.2 L200.4 154.7 L201.4 155.1 L202.4 155.6 L203.4 156.0 L204.4 156.5 L205.4 156.9 L206.4 157.4 L207.4 157.8 L208.4 158.3 L209.4 158.8 L210.4 159.3 L211.4 159.8 L212.4 160.3 L213.4 160.8 L214.4 161.4 L215.4 161.9 L216.4 162.4 L217.4 163.0 L218.4 163.6 L219.4 164.1 L220.4 164.7 L221.4 165.3 L222.4 165.9 L223.4 166.5 L224.4 167.2 L225.4 167.8 L226.4 168.4 L227.4 169.1 L228.4 169.7 L229.4 170.4 L230.4 171.1 L231.4 171.8 L232.4 172.5 L233.4 173.3 L234.4 174.0 L235.4 174.8 L236.4 175.6 L237.4 176.5 L238.4 177.4 L239.4 178.4 L240.4 179.4 L241.4 180.4 L242.4 181.5 L243.4 182.5 L244.4 183.4 L245.4 184.4 L246.4 185.3 L247.4 186.2 L248.4 187.0 L249.4 187.9 L250.4 188.8 L251.4 189.8 L252.4 190.7 L253.4 191.7 L254.4 192.7 L255.4 193.7 L256.4 194.7 L257.4 195.9 L258.4 197.1 L259.4 198.4 L260.4 199.8 L261.4 201.1 L262.4 202.5 L263.4 203.8 L264.4 205.1 L265.4 206.5 L266.4 207.8 L267.4 209.1 L268.4 210.4 L269.4 211.6 L270.4 212.8 L271.4 214.1 L272.4 215.3 L273.4 216.4 L274.4 217.5 L275.4 218.5 L276.4 219.5 L277.4 220.4 L278.4 221.3 L279.4 222.1 L280.4 222.8 L281.4 223.3 L282.4 223.9 L283.4 224.3 L284.4 224.6 L285.4 224.6 L286.4 224.4 L287.4 224.0 L288.4 223.6 L289.4 223.2 L290.4 222.7 L291.4 222.1 L292.4 221.4 L293.4 220.6 L294.4 219.8 L295.4 219.0 L296.4 218.0 L297.4 217.0 L298.4 216.0 L299.4 214.9 L300.4 213.9 L301.4 213.0 L302.4 212.2 L303.4 211.4 L304.4 210.6 L305.4 209.9 L306.4 209.1 L307.4 208.4 L308.4 207.7 L309.4 207.1 L310.4 206.5 L311.4 205.9 L312.4 205.4 L313.4 204.9 L314.4 204.5 L315.4 204.2 L316.4 203.8 L317.4 203.5 L318.4 203.2 L319.4 203.0 L320.4 202.8 L321.4 202.7 L322.4 202.6 L323.4 202.5 L324.4 202.4 L325.4 202.3 L326.4 202.3 L327.4 202.2 L328.4 202.2 L329.4 202.1 L330.4 202.1 L331.4 202.1 L332.4 202.0 L333.4 202.0 L334.4 202.0 L335.4 201.9 L336.4 201.9 L337.4 201.8 L338.4 201.7 L339.4 201.7 L340.4 201.5 L341.4 201.0 L342.4 200.3 L343.4 199.7 L344.4 199.6 L345.4 199.7 L346.4 199.8 L347.4 199.9 L348.4 200.0 L349.4 200.1 L350.4 200.1 L351.4 200.0 L352.4 200.0 L353.4 199.8 L354.4 199.7 L355.4 199.6 L356.4 199.5 L357.4 199.5 L358.4 199.5 L359.4 199.5 L360.4 199.6 L361.4 199.6 L362.4 199.6 L363.4 199.7 L364.4 199.8 L365.4 199.8 L366.4 200.0 L367.4 200.2 L368.4 200.5 L369.4 200.7 L370.4 200.9 L371.4 200.9 L372.4 200.7 L373.4 200.4 L374.4 200.0 L375.4 199.7 L376.4 199.5 L377.4 199.4 L378.4 199.3 L379.4 199.3 L380.4 199.5 L381.4 200.1 L382.4 200.8 L383.4 201.4 L384.4 201.7 L385.4 201.8 L386.4 201.8 L387.4 201.9 L388.4 201.9 L389.4 201.9 L390.4 201.9 L391.4 201.9 L392.4 201.9 L393.4 201.9 L394.4 201.9" fill="none" stroke="#ff3a10" stroke-width="1.9" stroke-dasharray="1.25 2.0" clip-path="url(#c2)"/>
<path d="M41.4 229.0 L42.4 229.0 L43.4 229.0 L44.4 229.0 L45.4 229.0 L46.4 229.0 L47.4 229.0 L48.4 228.9 L49.4 228.9 L50.4 228.9 L51.4 228.9 L52.4 228.9 L53.4 228.9 L54.4 228.9 L55.4 228.9 L56.4 228.9 L57.4 228.9 L58.4 228.8 L59.4 228.8 L60.4 228.8 L61.4 228.8 L62.4 228.8 L63.4 228.8 L64.4 228.8 L65.4 228.8 L66.4 228.8 L67.4 228.8 L68.4 228.7 L69.4 228.7 L70.4 228.7 L71.4 228.7 L72.4 228.7 L73.4 228.7 L74.4 228.7 L75.4 228.7 L76.4 228.7 L77.4 228.6 L78.4 228.6 L79.4 228.6 L80.4 228.6 L81.4 228.6 L82.4 228.6 L83.4 228.6 L84.4 228.6 L85.4 228.5 L86.4 228.5 L87.4 228.5 L88.4 228.5 L89.4 228.5 L90.4 228.5 L91.4 228.5 L92.4 228.5 L93.4 228.4 L94.4 228.4 L95.4 228.4 L96.4 228.4 L97.4 228.4 L98.4 228.4 L99.4 228.4 L100.4 228.4 L101.4 228.3 L102.4 228.3 L103.4 228.3 L104.4 228.3 L105.4 228.3 L106.4 228.3 L107.4 228.3 L108.4 228.2 L109.4 228.2 L110.4 228.2 L111.4 228.2 L112.4 228.2 L113.4 228.2 L114.4 228.1 L115.4 228.1 L116.4 228.1 L117.4 228.1 L118.4 228.1 L119.4 228.0 L120.4 228.0 L121.4 228.0 L122.4 228.0 L123.4 227.9 L124.4 227.9 L125.4 227.9 L126.4 227.9 L127.4 227.8 L128.4 227.8 L129.4 227.8 L130.4 227.7 L131.4 227.7 L132.4 227.6 L133.4 227.6 L134.4 227.6 L135.4 227.5 L136.4 227.5 L137.4 227.5 L138.4 227.4 L139.4 227.4 L140.4 227.3 L141.4 227.3 L142.4 227.3 L143.4 227.2 L144.4 227.2 L145.4 227.1 L146.4 227.1 L147.4 227.1 L148.4 227.0 L149.4 227.0 L150.4 227.0 L151.4 226.9 L152.4 226.9 L153.4 226.8 L154.4 226.8 L155.4 226.8 L156.4 226.7 L157.4 226.7 L158.4 226.7 L159.4 226.6 L160.4 226.6 L161.4 226.5 L162.4 226.5 L163.4 226.4 L164.4 226.4 L165.4 226.3 L166.4 226.3 L167.4 226.2 L168.4 226.2 L169.4 226.1 L170.4 226.1 L171.4 226.0 L172.4 226.0 L173.4 225.9 L174.4 225.9 L175.4 225.8 L176.4 225.7 L177.4 225.7 L178.4 225.6 L179.4 225.5 L180.4 225.5 L181.4 225.4 L182.4 225.3 L183.4 225.2 L184.4 225.2 L185.4 225.1 L186.4 225.0 L187.4 224.9 L188.4 224.7 L189.4 224.6 L190.4 224.5 L191.4 224.3 L192.4 224.2 L193.4 224.1 L194.4 223.9 L195.4 223.8 L196.4 223.7 L197.4 223.6 L198.4 223.4 L199.4 223.3 L200.4 223.1 L201.4 223.0 L202.4 222.9 L203.4 222.8 L204.4 222.7 L205.4 222.6 L206.4 222.5 L207.4 222.4 L208.4 222.3 L209.4 222.2 L210.4 222.1 L211.4 222.0 L212.4 221.9 L213.4 221.7 L214.4 221.6 L215.4 221.5 L216.4 221.3 L217.4 221.2 L218.4 221.0 L219.4 220.8 L220.4 220.7 L221.4 220.5 L222.4 220.4 L223.4 220.2 L224.4 220.0 L225.4 219.9 L226.4 219.7 L227.4 219.6 L228.4 219.4 L229.4 219.3 L230.4 219.1 L231.4 218.9 L232.4 218.8 L233.4 218.6 L234.4 218.4 L235.4 218.2 L236.4 218.0 L237.4 217.8 L238.4 217.6 L239.4 217.4 L240.4 217.1 L241.4 216.9 L242.4 216.6 L243.4 216.4 L244.4 216.1 L245.4 215.9 L246.4 215.7 L247.4 215.5 L248.4 215.2 L249.4 215.0 L250.4 214.8 L251.4 214.6 L252.4 214.4 L253.4 214.2 L254.4 213.9 L255.4 213.7 L256.4 213.4 L257.4 213.2 L258.4 212.9 L259.4 212.7 L260.4 212.4 L261.4 212.1 L262.4 211.8 L263.4 211.5 L264.4 211.3 L265.4 211.0 L266.4 210.7 L267.4 210.4 L268.4 210.1 L269.4 209.8 L270.4 209.5 L271.4 209.2 L272.4 208.8 L273.4 208.5 L274.4 208.2 L275.4 207.9 L276.4 207.5 L277.4 207.2 L278.4 206.9 L279.4 206.7 L280.4 206.4 L281.4 206.2 L282.4 206.0 L283.4 205.9 L284.4 205.7 L285.4 205.6 L286.4 205.4 L287.4 205.3 L288.4 205.1 L289.4 204.9 L290.4 204.7 L291.4 204.4 L292.4 204.2 L293.4 203.9 L294.4 203.7 L295.4 203.5 L296.4 203.3 L297.4 203.1 L298.4 202.9 L299.4 202.7 L300.4 202.6 L301.4 202.4 L302.4 202.2 L303.4 202.1 L304.4 201.9 L305.4 201.7 L306.4 201.6 L307.4 201.4 L308.4 201.3 L309.4 201.1 L310.4 201.0 L311.4 200.8 L312.4 200.7 L313.4 200.6 L314.4 200.5 L315.4 200.3 L316.4 200.2 L317.4 200.1 L318.4 200.0 L319.4 199.9 L320.4 199.9 L321.4 199.8 L322.4 199.8 L323.4 199.7 L324.4 199.7 L325.4 199.7 L326.4 199.6 L327.4 199.6 L328.4 199.6 L329.4 199.6 L330.4 199.6 L331.4 199.7 L332.4 199.9 L333.4 200.1 L334.4 200.2 L335.4 200.2 L336.4 200.1 L337.4 200.0 L338.4 199.9 L339.4 199.8 L340.4 199.6 L341.4 199.5 L342.4 199.4 L343.4 199.3 L344.4 199.3 L345.4 199.4 L346.4 199.5 L347.4 199.6 L348.4 199.7 L349.4 199.8 L350.4 199.8 L351.4 199.7 L352.4 199.7 L353.4 199.5 L354.4 199.4 L355.4 199.3 L356.4 199.2 L357.4 199.2 L358.4 199.2 L359.4 199.2 L360.4 199.3 L361.4 199.3 L362.4 199.3 L363.4 199.4 L364.4 199.5 L365.4 199.5 L366.4 199.7 L367.4 199.9 L368.4 200.2 L369.4 200.4 L370.4 200.6 L371.4 200.6 L372.4 200.4 L373.4 200.1 L374.4 199.7 L375.4 199.4 L376.4 199.2 L377.4 199.1 L378.4 199.0 L379.4 199.0 L380.4 199.2 L381.4 199.8 L382.4 200.5 L383.4 201.1 L384.4 201.4 L385.4 201.5 L386.4 201.5 L387.4 201.6 L388.4 201.6 L389.4 201.6 L390.4 201.6 L391.4 201.6 L392.4 201.6 L393.4 201.6 L394.4 201.6" fill="none" stroke="#1030ff" stroke-width="1.9" stroke-dasharray="5.2 4.2" clip-path="url(#c2)"/>
<path d="M41.4 185.6 L42.4 185.6 L43.4 185.6 L44.4 185.6 L45.4 185.6 L46.4 185.6 L47.4 185.6 L48.4 185.6 L49.4 185.6 L50.4 185.6 L51.4 185.7 L52.4 185.7 L53.4 185.7 L54.4 185.7 L55.4 185.7 L56.4 185.7 L57.4 185.7 L58.4 185.7 L59.4 185.7 L60.4 185.7 L61.4 185.7 L62.4 185.8 L63.4 185.8 L64.4 185.8 L65.4 185.8 L66.4 185.8 L67.4 185.8 L68.4 185.8 L69.4 185.8 L70.4 185.9 L71.4 185.9 L72.4 185.9 L73.4 185.9 L74.4 185.9 L75.4 185.9 L76.4 185.9 L77.4 185.9 L78.4 186.0 L79.4 186.0 L80.4 186.0 L81.4 186.0 L82.4 186.0 L83.4 186.0 L84.4 186.1 L85.4 186.1 L86.4 186.1 L87.4 186.1 L88.4 186.1 L89.4 186.1 L90.4 186.2 L91.4 186.2 L92.4 186.2 L93.4 186.2 L94.4 186.2 L95.4 186.3 L96.4 186.3 L97.4 186.3 L98.4 186.3 L99.4 186.4 L100.4 186.4 L101.4 186.4 L102.4 186.4 L103.4 186.5 L104.4 186.5 L105.4 186.5 L106.4 186.6 L107.4 186.6 L108.4 186.6 L109.4 186.6 L110.4 186.7 L111.4 186.7 L112.4 186.7 L113.4 186.8 L114.4 186.8 L115.4 186.8 L116.4 186.9 L117.4 186.9 L118.4 186.9 L119.4 186.9 L120.4 187.0 L121.4 187.0 L122.4 187.0 L123.4 187.1 L124.4 187.1 L125.4 187.2 L126.4 187.2 L127.4 187.2 L128.4 187.3 L129.4 187.3 L130.4 187.3 L131.4 187.4 L132.4 187.4 L133.4 187.5 L134.4 187.5 L135.4 187.6 L136.4 187.6 L137.4 187.7 L138.4 187.7 L139.4 187.8 L140.4 187.8 L141.4 187.9 L142.4 187.9 L143.4 188.0 L144.4 188.0 L145.4 188.1 L146.4 188.1 L147.4 188.2 L148.4 188.3 L149.4 188.3 L150.4 188.4 L151.4 188.5 L152.4 188.6 L153.4 188.6 L154.4 188.7 L155.4 188.8 L156.4 188.9 L157.4 189.0 L158.4 189.1 L159.4 189.2 L160.4 189.3 L161.4 189.3 L162.4 189.4 L163.4 189.5 L164.4 189.6 L165.4 189.7 L166.4 189.8 L167.4 190.0 L168.4 190.1 L169.4 190.2 L170.4 190.3 L171.4 190.4 L172.4 190.5 L173.4 190.7 L174.4 190.8 L175.4 190.9 L176.4 191.0 L177.4 191.2 L178.4 191.3 L179.4 191.5 L180.4 191.6 L181.4 191.8 L182.4 191.9 L183.4 192.1 L184.4 192.3 L185.4 192.5 L186.4 192.7 L187.4 192.9 L188.4 193.1 L189.4 193.3 L190.4 193.6 L191.4 193.8 L192.4 194.0 L193.4 194.3 L194.4 194.5 L195.4 194.7 L196.4 194.9 L197.4 195.2 L198.4 195.4 L199.4 195.6 L200.4 195.9 L201.4 196.2 L202.4 196.5 L203.4 196.8 L204.4 197.1 L205.4 197.4 L206.4 197.8 L207.4 198.1 L208.4 198.4 L209.4 198.8 L210.4 199.1 L211.4 199.5 L212.4 199.8 L213.4 200.2 L214.4 200.6 L215.4 201.0 L216.4 201.4 L217.4 201.8 L218.4 202.2 L219.4 202.6 L220.4 203.0 L221.4 203.4 L222.4 203.8 L223.4 204.2 L224.4 204.7 L225.4 205.1 L226.4 205.5 L227.4 205.9 L228.4 206.3 L229.4 206.8 L230.4 207.2 L231.4 207.7 L232.4 208.1 L233.4 208.6 L234.4 209.1 L235.4 209.6 L236.4 210.1 L237.4 210.7 L238.4 211.3 L239.4 212.0 L240.4 212.7 L241.4 213.4 L242.4 214.1 L243.4 214.7 L244.4 215.3 L245.4 215.9 L246.4 216.5 L247.4 217.0 L248.4 217.5 L249.4 218.0 L250.4 218.6 L251.4 219.1 L252.4 219.7 L253.4 220.4 L254.4 221.0 L255.4 221.6 L256.4 222.2 L257.4 222.7 L258.4 223.2 L259.4 223.7 L260.4 224.2 L261.4 224.6 L262.4 224.9 L263.4 225.1 L264.4 225.3 L265.4 225.4 L266.4 225.5 L267.4 225.6 L268.4 225.6 L269.4 225.4 L270.4 225.2 L271.4 224.8 L272.4 224.4 L273.4 223.9 L274.4 223.4 L275.4 222.9 L276.4 222.3 L277.4 221.6 L278.4 220.8 L279.4 220.0 L280.4 219.3 L281.4 218.6 L282.4 218.0 L283.4 217.4 L284.4 216.8 L285.4 216.2 L286.4 215.7 L287.4 215.1 L288.4 214.4 L289.4 213.8 L290.4 213.2 L291.4 212.6 L292.4 212.0 L293.4 211.5 L294.4 210.9 L295.4 210.4 L296.4 209.8 L297.4 209.3 L298.4 208.8 L299.4 208.3 L300.4 207.8 L301.4 207.4 L302.4 206.9 L303.4 206.5 L304.4 206.1 L305.4 205.7 L306.4 205.3 L307.4 204.9 L308.4 204.5 L309.4 204.2 L310.4 203.8 L311.4 203.5 L312.4 203.3 L313.4 203.0 L314.4 202.8 L315.4 202.6 L316.4 202.5 L317.4 202.3 L318.4 202.1 L319.4 202.0 L320.4 201.9 L321.4 201.8 L322.4 201.7 L323.4 201.6 L324.4 201.6 L325.4 201.6 L326.4 201.5 L327.4 201.5 L328.4 201.5 L329.4 201.4 L330.4 201.4 L331.4 201.4 L332.4 201.3 L333.4 201.3 L334.4 201.2 L335.4 201.2 L336.4 201.0 L337.4 200.8 L338.4 200.6 L339.4 200.3 L340.4 200.0 L341.4 199.8 L342.4 199.6 L343.4 199.5 L344.4 199.5 L345.4 199.6 L346.4 199.7 L347.4 199.8 L348.4 199.9 L349.4 200.0 L350.4 200.0 L351.4 199.9 L352.4 199.9 L353.4 199.7 L354.4 199.6 L355.4 199.5 L356.4 199.4 L357.4 199.4 L358.4 199.4 L359.4 199.4 L360.4 199.5 L361.4 199.5 L362.4 199.5 L363.4 199.6 L364.4 199.7 L365.4 199.7 L366.4 199.9 L367.4 200.1 L368.4 200.4 L369.4 200.6 L370.4 200.8 L371.4 200.8 L372.4 200.6 L373.4 200.3 L374.4 199.9 L375.4 199.6 L376.4 199.4 L377.4 199.3 L378.4 199.2 L379.4 199.2 L380.4 199.4 L381.4 200.0 L382.4 200.7 L383.4 201.3 L384.4 201.6 L385.4 201.7 L386.4 201.7 L387.4 201.8 L388.4 201.8 L389.4 201.8 L390.4 201.8 L391.4 201.8 L392.4 201.8 L393.4 201.8 L394.4 201.8" fill="none" stroke="#14f864" stroke-width="1.9" stroke-dasharray="4.8 1.95 1.7 1.95" clip-path="url(#c2)"/>
<path d="M41.4 179.4 L42.4 179.4 L43.4 179.4 L44.4 179.3 L45.4 179.3 L46.4 179.3 L47.4 179.3 L48.4 179.3 L49.4 179.2 L50.4 179.2 L51.4 179.2 L52.4 179.2 L53.4 179.2 L54.4 179.1 L55.4 179.1 L56.4 179.1 L57.4 179.1 L58.4 179.1 L59.4 179.0 L60.4 179.0 L61.4 179.0 L62.4 179.0 L63.4 179.0 L64.4 178.9 L65.4 178.9 L66.4 178.9 L67.4 178.9 L68.4 178.9 L69.4 178.8 L70.4 178.8 L71.4 178.8 L72.4 178.8 L73.4 178.8 L74.4 178.7 L75.4 178.7 L76.4 178.7 L77.4 178.7 L78.4 178.7 L79.4 178.6 L80.4 178.6 L81.4 178.6 L82.4 178.6 L83.4 178.5 L84.4 178.5 L85.4 178.5 L86.4 178.4 L87.4 178.4 L88.4 178.4 L89.4 178.3 L90.4 178.3 L91.4 178.3 L92.4 178.2 L93.4 178.2 L94.4 178.1 L95.4 178.1 L96.4 178.1 L97.4 178.0 L98.4 178.0 L99.4 177.9 L100.4 177.9 L101.4 177.9 L102.4 177.8 L103.4 177.8 L104.4 177.8 L105.4 177.7 L106.4 177.7 L107.4 177.7 L108.4 177.6 L109.4 177.6 L110.4 177.6 L111.4 177.5 L112.4 177.5 L113.4 177.5 L114.4 177.5 L115.4 177.4 L116.4 177.4 L117.4 177.4 L118.4 177.4 L119.4 177.4 L120.4 177.4 L121.4 177.4 L122.4 177.4 L123.4 177.4 L124.4 177.4 L125.4 177.4 L126.4 177.4 L127.4 177.4 L128.4 177.4 L129.4 177.4 L130.4 177.4 L131.4 177.4 L132.4 177.4 L133.4 177.4 L134.4 177.4 L135.4 177.4 L136.4 177.4 L137.4 177.4 L138.4 177.4 L139.4 177.4 L140.4 177.4 L141.4 177.4 L142.4 177.4 L143.4 177.4 L144.4 177.4 L145.4 177.4 L146.4 177.4 L147.4 177.4 L148.4 177.4 L149.4 177.4 L150.4 177.4 L151.4 177.4 L152.4 177.4 L153.4 177.5 L154.4 177.5 L155.4 177.5 L156.4 177.5 L157.4 177.5 L158.4 177.5 L159.4 177.5 L160.4 177.5 L161.4 177.6 L162.4 177.6 L163.4 177.6 L164.4 177.6 L165.4 177.6 L166.4 177.7 L167.4 177.7 L168.4 177.7 L169.4 177.8 L170.4 177.8 L171.4 177.9 L172.4 177.9 L173.4 178.0 L174.4 178.0 L175.4 178.1 L176.4 178.1 L177.4 178.2 L178.4 178.3 L179.4 178.3 L180.4 178.4 L181.4 178.4 L182.4 178.5 L183.4 178.6 L184.4 178.6 L185.4 178.7 L186.4 178.7 L187.4 178.8 L188.4 178.8 L189.4 178.9 L190.4 178.9 L191.4 179.0 L192.4 179.0 L193.4 179.1 L194.4 179.2 L195.4 179.2 L196.4 179.3 L197.4 179.4 L198.4 179.5 L199.4 179.5 L200.4 179.6 L201.4 179.8 L202.4 179.9 L203.4 180.1 L204.4 180.3 L205.4 180.4 L206.4 180.6 L207.4 180.8 L208.4 181.0 L209.4 181.2 L210.4 181.3 L211.4 181.5 L212.4 181.7 L213.4 181.8 L214.4 182.0 L215.4 182.1 L216.4 182.3 L217.4 182.4 L218.4 182.6 L219.4 182.7 L220.4 182.9 L221.4 183.0 L222.4 183.2 L223.4 183.3 L224.4 183.5 L225.4 183.6 L226.4 183.8 L227.4 183.9 L228.4 184.0 L229.4 184.2 L230.4 184.3 L231.4 184.5 L232.4 184.6 L233.4 184.8 L234.4 184.9 L235.4 185.1 L236.4 185.3 L237.4 185.4 L238.4 185.6 L239.4 185.8 L240.4 185.9 L241.4 186.1 L242.4 186.3 L243.4 186.5 L244.4 186.7 L245.4 186.9 L246.4 187.1 L247.4 187.3 L248.4 187.6 L249.4 187.9 L250.4 188.1 L251.4 188.4 L252.4 188.7 L253.4 189.0 L254.4 189.2 L255.4 189.5 L256.4 189.8 L257.4 190.0 L258.4 190.2 L259.4 190.5 L260.4 190.7 L261.4 191.0 L262.4 191.2 L263.4 191.4 L264.4 191.7 L265.4 191.9 L266.4 192.1 L267.4 192.4 L268.4 192.6 L269.4 192.8 L270.4 193.0 L271.4 193.2 L272.4 193.4 L273.4 193.5 L274.4 193.7 L275.4 193.9 L276.4 194.1 L277.4 194.3 L278.4 194.5 L279.4 194.7 L280.4 194.9 L281.4 195.1 L282.4 195.4 L283.4 195.7 L284.4 196.0 L285.4 196.3 L286.4 196.6 L287.4 196.9 L288.4 197.1 L289.4 197.3 L290.4 197.4 L291.4 197.5 L292.4 197.6 L293.4 197.7 L294.4 197.7 L295.4 197.8 L296.4 197.8 L297.4 197.9 L298.4 197.9 L299.4 198.0 L300.4 198.0 L301.4 198.1 L302.4 198.1 L303.4 198.2 L304.4 198.2 L305.4 198.3 L306.4 198.3 L307.4 198.3 L308.4 198.4 L309.4 198.4 L310.4 198.5 L311.4 198.5 L312.4 198.6 L313.4 198.7 L314.4 198.7 L315.4 198.8 L316.4 199.0 L317.4 199.1 L318.4 199.3 L319.4 199.5 L320.4 199.6 L321.4 199.8 L322.4 199.9 L323.4 200.1 L324.4 200.1 L325.4 200.2 L326.4 200.2 L327.4 200.2 L328.4 200.2 L329.4 200.2 L330.4 200.2 L331.4 200.2 L332.4 200.2 L333.4 200.2 L334.4 200.2 L335.4 200.2 L336.4 200.1 L337.4 200.0 L338.4 199.9 L339.4 199.8 L340.4 199.6 L341.4 199.5 L342.4 199.4 L343.4 199.3 L344.4 199.3 L345.4 199.4 L346.4 199.5 L347.4 199.6 L348.4 199.7 L349.4 199.8 L350.4 199.8 L351.4 199.7 L352.4 199.7 L353.4 199.5 L354.4 199.4 L355.4 199.3 L356.4 199.2 L357.4 199.2 L358.4 199.2 L359.4 199.2 L360.4 199.3 L361.4 199.3 L362.4 199.3 L363.4 199.4 L364.4 199.5 L365.4 199.5 L366.4 199.7 L367.4 199.9 L368.4 200.2 L369.4 200.4 L370.4 200.6 L371.4 200.6 L372.4 200.4 L373.4 200.1 L374.4 199.7 L375.4 199.4 L376.4 199.2 L377.4 199.1 L378.4 199.0 L379.4 199.0 L380.4 199.2 L381.4 199.8 L382.4 200.5 L383.4 201.1 L384.4 201.4 L385.4 201.5 L386.4 201.5 L387.4 201.6 L388.4 201.6 L389.4 201.6 L390.4 201.6 L391.4 201.6 L392.4 201.6 L393.4 201.6 L394.4 201.6" fill="none" stroke="#7a10ff" stroke-width="1.9" stroke-dasharray="7.2 2.1 1.5 2.0 1.5 2.0 1.5 2.1" clip-path="url(#c2)"/>
<path d="M41.4 285.0 L42.4 285.0 L43.4 285.0 L44.4 285.0 L45.4 285.0 L46.4 285.0 L47.4 285.0 L48.4 285.0 L49.4 285.0 L50.4 285.0 L51.4 285.0 L52.4 285.0 L53.4 285.0 L54.4 285.0 L55.4 285.0 L56.4 285.0 L57.4 285.0 L58.4 285.0 L59.4 285.0 L60.4 285.0 L61.4 285.0 L62.4 285.0 L63.4 285.0 L64.4 285.0 L65.4 285.0 L66.4 285.0 L67.4 285.0 L68.4 285.0 L69.4 285.0 L70.4 285.0 L71.4 285.0 L72.4 285.0 L73.4 285.0 L74.4 285.0 L75.4 285.0 L76.4 285.0 L77.4 285.0 L78.4 284.9 L79.4 284.9 L80.4 284.9 L81.4 284.9 L82.4 284.9 L83.4 284.9 L84.4 284.9 L85.4 284.9 L86.4 284.9 L87.4 284.9 L88.4 284.9 L89.4 284.9 L90.4 284.9 L91.4 284.9 L92.4 284.9 L93.4 284.9 L94.4 284.9 L95.4 284.9 L96.4 284.9 L97.4 284.9 L98.4 284.9 L99.4 284.9 L100.4 284.9 L101.4 284.9 L102.4 284.9 L103.4 284.9 L104.4 284.9 L105.4 284.9 L106.4 284.9 L107.4 284.9 L108.4 284.9 L109.4 284.9 L110.4 284.8 L111.4 284.8 L112.4 284.8 L113.4 284.8 L114.4 284.8 L115.4 284.8 L116.4 284.8 L117.4 284.8 L118.4 284.8 L119.4 284.8 L120.4 284.8 L121.4 284.8 L122.4 284.8 L123.4 284.8 L124.4 284.8 L125.4 284.8 L126.4 284.8 L127.4 284.8 L128.4 284.8 L129.4 284.8 L130.4 284.8 L131.4 284.8 L132.4 284.8 L133.4 284.8 L134.4 284.8 L135.4 284.8 L136.4 284.8 L137.4 284.7 L138.4 284.7 L139.4 284.7 L140.4 284.7 L141.4 284.7 L142.4 284.7 L143.4 284.7 L144.4 284.7 L145.4 284.7 L146.4 284.7 L147.4 284.7 L148.4 284.7 L149.4 284.7 L150.4 284.7 L151.4 284.7 L152.4 284.7 L153.4 284.7 L154.4 284.7 L155.4 284.7 L156.4 284.7 L157.4 284.7 L158.4 284.6 L159.4 284.6 L160.4 284.6 L161.4 284.6 L162.4 284.6 L163.4 284.6 L164.4 284.6 L165.4 284.6 L166.4 284.6 L167.4 284.6 L168.4 284.6 L169.4 284.6 L170.4 284.6 L171.4 284.6 L172.4 284.6 L173.4 284.5 L174.4 284.5 L175.4 284.5 L176.4 284.5 L177.4 284.5 L178.4 284.5 L179.4 284.5 L180.4 284.5 L181.4 284.5 L182.4 284.5 L183.4 284.5 L184.4 284.5 L185.4 284.4 L186.4 284.4 L187.4 284.4 L188.4 284.4 L189.4 284.4 L190.4 284.4 L191.4 284.4 L192.4 284.4 L193.4 284.4 L194.4 284.4 L195.4 284.3 L196.4 284.3 L197.4 284.3 L198.4 284.3 L199.4 284.3 L200.4 284.3 L201.4 284.3 L202.4 284.3 L203.4 284.2 L204.4 284.2 L205.4 284.2 L206.4 284.2 L207.4 284.2 L208.4 284.2 L209.4 284.2 L210.4 284.1 L211.4 284.1 L212.4 284.1 L213.4 284.1 L214.4 284.0 L215.4 284.0 L216.4 284.0 L217.4 283.9 L218.4 283.9 L219.4 283.8 L220.4 283.8 L221.4 283.8 L222.4 283.7 L223.4 283.7 L224.4 283.6 L225.4 283.6 L226.4 283.6 L227.4 283.5 L228.4 283.5 L229.4 283.4 L230.4 283.4 L231.4 283.3 L232.4 283.3 L233.4 283.3 L234.4 283.2 L235.4 283.2 L236.4 283.1 L237.4 283.1 L238.4 283.0 L239.4 283.0 L240.4 282.9 L241.4 282.8 L242.4 282.8 L243.4 282.7 L244.4 282.7 L245.4 282.6 L246.4 282.6 L247.4 282.5 L248.4 282.5 L249.4 282.4 L250.4 282.4 L251.4 282.3 L252.4 282.3 L253.4 282.2 L254.4 282.2 L255.4 282.1 L256.4 282.1 L257.4 282.0 L258.4 282.0 L259.4 281.9 L260.4 281.9 L261.4 281.8 L262.4 281.8 L263.4 281.7 L264.4 281.7 L265.4 281.6 L266.4 281.6 L267.4 281.5 L268.4 281.5 L269.4 281.4 L270.4 281.4 L271.4 281.3 L272.4 281.3 L273.4 281.2 L274.4 281.2 L275.4 281.1 L276.4 281.1 L277.4 281.0 L278.4 281.0 L279.4 280.9 L280.4 280.8 L281.4 280.8 L282.4 280.7 L283.4 280.7 L284.4 280.6 L285.4 280.6 L286.4 280.5 L287.4 280.5 L288.4 280.5 L289.4 280.4 L290.4 280.4 L291.4 280.3 L292.4 280.3 L293.4 280.3 L294.4 280.2 L295.4 280.2 L296.4 280.2 L297.4 280.1 L298.4 280.1 L299.4 280.0 L300.4 280.0 L301.4 280.0 L302.4 279.9 L303.4 279.9 L304.4 279.9 L305.4 279.9 L306.4 279.8 L307.4 279.8 L308.4 279.8 L309.4 279.8 L310.4 279.8 L311.4 279.8 L312.4 279.8 L313.4 279.8 L314.4 279.8 L315.4 279.8 L316.4 279.8 L317.4 279.8 L318.4 279.8 L319.4 279.8 L320.4 279.7 L321.4 279.7 L322.4 279.7 L323.4 279.7 L324.4 279.7 L325.4 279.7 L326.4 279.7 L327.4 279.7 L328.4 279.7 L329.4 279.7 L330.4 279.7 L331.4 279.7 L332.4 279.7 L333.4 279.7 L334.4 279.7 L335.4 279.7 L336.4 279.7 L337.4 279.7 L338.4 279.7 L339.4 279.7 L340.4 279.7 L341.4 279.7 L342.4 279.7 L343.4 279.7 L344.4 279.7 L345.4 279.7 L346.4 279.7 L347.4 279.7 L348.4 279.7 L349.4 279.7 L350.4 279.6 L351.4 279.6 L352.4 279.6 L353.4 279.6 L354.4 279.6 L355.4 279.6 L356.4 279.6 L357.4 279.6 L358.4 279.6 L359.4 279.6 L360.4 279.6 L361.4 279.6 L362.4 279.6 L363.4 279.6 L364.4 279.6 L365.4 279.6 L366.4 279.6 L367.4 279.6 L368.4 279.6 L369.4 279.6 L370.4 279.6 L371.4 279.6 L372.4 279.6 L373.4 279.6 L374.4 279.6 L375.4 279.6 L376.4 279.6 L377.4 279.6 L378.4 279.6 L379.4 279.6 L380.4 279.6 L381.4 279.6 L382.4 279.6 L383.4 279.6 L384.4 279.6 L385.4 279.6 L386.4 279.6 L387.4 279.6 L388.4 279.6 L389.4 279.6 L390.4 279.6 L391.4 279.6 L392.4 279.6 L393.4 279.6 L394.4 279.6" fill="none" stroke="#000000" stroke-width="1.9" clip-path="url(#c3)"/>
<path d="M41.4 341.4 L42.4 341.4 L43.4 341.4 L44.4 341.4 L45.4 341.4 L46.4 341.4 L47.4 341.4 L48.4 341.4 L49.4 341.4 L50.4 341.4 L51.4 341.4 L52.4 341.4 L53.4 341.4 L54.4 341.4 L55.4 341.4 L56.4 341.4 L57.4 341.4 L58.4 341.4 L59.4 341.4 L60.4 341.4 L61.4 341.4 L62.4 341.4 L63.4 341.4 L64.4 341.4 L65.4 341.4 L66.4 341.4 L67.4 341.4 L68.4 341.4 L69.4 341.4 L70.4 341.4 L71.4 341.4 L72.4 341.4 L73.4 341.4 L74.4 341.3 L75.4 341.3 L76.4 341.3 L77.4 341.3 L78.4 341.3 L79.4 341.3 L80.4 341.3 L81.4 341.3 L82.4 341.3 L83.4 341.3 L84.4 341.3 L85.4 341.3 L86.4 341.3 L87.4 341.3 L88.4 341.3 L89.4 341.3 L90.4 341.3 L91.4 341.3 L92.4 341.3 L93.4 341.3 L94.4 341.3 L95.4 341.3 L96.4 341.3 L97.4 341.3 L98.4 341.3 L99.4 341.3 L100.4 341.3 L101.4 341.3 L102.4 341.3 L103.4 341.3 L104.4 341.3 L105.4 341.3 L106.4 341.3 L107.4 341.3 L108.4 341.3 L109.4 341.3 L110.4 341.3 L111.4 341.3 L112.4 341.3 L113.4 341.3 L114.4 341.3 L115.4 341.3 L116.4 341.3 L117.4 341.3 L118.4 341.3 L119.4 341.3 L120.4 341.3 L121.4 341.3 L122.4 341.3 L123.4 341.3 L124.4 341.3 L125.4 341.3 L126.4 341.3 L127.4 341.3 L128.4 341.3 L129.4 341.3 L130.4 341.3 L131.4 341.3 L132.4 341.3 L133.4 341.3 L134.4 341.3 L135.4 341.3 L136.4 341.3 L137.4 341.3 L138.4 341.3 L139.4 341.3 L140.4 341.3 L141.4 341.3 L142.4 341.3 L143.4 341.3 L144.4 341.3 L145.4 341.3 L146.4 341.3 L147.4 341.3 L148.4 341.3 L149.4 341.3 L150.4 341.3 L151.4 341.3 L152.4 341.3 L153.4 341.3 L154.4 341.3 L155.4 341.3 L156.4 341.3 L157.4 341.3 L158.4 341.3 L159.4 341.3 L160.4 341.3 L161.4 341.3 L162.4 341.3 L163.4 341.3 L164.4 341.3 L165.4 341.3 L166.4 341.3 L167.4 341.3 L168.4 341.3 L169.4 341.3 L170.4 341.3 L171.4 341.3 L172.4 341.3 L173.4 341.3 L174.4 341.3 L175.4 341.3 L176.4 341.3 L177.4 341.3 L178.4 341.3 L179.4 341.3 L180.4 341.3 L181.4 341.3 L182.4 341.3 L183.4 341.3 L184.4 341.3 L185.4 341.3 L186.4 341.3 L187.4 341.3 L188.4 341.3 L189.4 341.3 L190.4 341.3 L191.4 341.3 L192.4 341.3 L193.4 341.3 L194.4 341.3 L195.4 341.3 L196.4 341.3 L197.4 341.3 L198.4 341.3 L199.4 341.3 L200.4 341.3 L201.4 341.3 L202.4 341.3 L203.4 341.3 L204.4 341.3 L205.4 341.3 L206.4 341.3 L207.4 341.3 L208.4 341.3 L209.4 341.4 L210.4 341.4 L211.4 341.4 L212.4 341.4 L213.4 341.4 L214.4 341.4 L215.4 341.4 L216.4 341.4 L217.4 341.5 L218.4 341.5 L219.4 341.5 L220.4 341.5 L221.4 341.5 L222.4 341.5 L223.4 341.6 L224.4 341.6 L225.4 341.6 L226.4 341.6 L227.4 341.6 L228.4 341.7 L229.4 341.7 L230.4 341.7 L231.4 341.7 L232.4 341.8 L233.4 341.8 L234.4 341.8 L235.4 341.8 L236.4 341.9 L237.4 341.9 L238.4 341.9 L239.4 342.0 L240.4 342.0 L241.4 342.1 L242.4 342.1 L243.4 342.1 L244.4 342.2 L245.4 342.2 L246.4 342.3 L247.4 342.3 L248.4 342.4 L249.4 342.5 L250.4 342.5 L251.4 342.6 L252.4 342.7 L253.4 342.7 L254.4 342.8 L255.4 342.9 L256.4 343.0 L257.4 343.1 L258.4 343.2 L259.4 343.3 L260.4 343.4 L261.4 343.6 L262.4 343.8 L263.4 344.0 L264.4 344.2 L265.4 344.5 L266.4 344.8 L267.4 345.1 L268.4 345.6 L269.4 346.1 L270.4 346.6 L271.0 347.0 M276.0 237.8 L277.0 239.6 L278.0 241.3 L279.0 243.0 L280.0 244.9 L281.0 247.0 L282.0 249.1 L283.0 251.3 L284.0 253.6 L285.0 256.2 L286.0 259.0 L287.0 261.6 L288.0 263.9 L289.0 265.9 L290.0 267.8 L291.0 269.6 L292.0 271.0 L293.0 272.1 L294.0 273.0 L295.0 274.0 L296.0 274.9 L297.0 275.8 L298.0 276.5 L299.0 276.9 L300.0 277.2 L301.0 277.4 L302.0 277.6 L303.0 277.8 L304.0 278.0 L305.0 278.1 L306.0 278.3 L307.0 278.5 L308.0 278.6 L309.0 278.7 L310.0 278.9 L311.0 279.0 L312.0 279.1 L313.0 279.2 L314.0 279.3 L315.0 279.4 L316.0 279.4 L317.0 279.5 L318.0 279.6 L319.0 279.6 L320.0 279.6 L321.0 279.6 L322.0 279.6 L323.0 279.6 L324.0 279.6 L325.0 279.6 L326.0 279.6 L327.0 279.6 L328.0 279.6 L329.0 279.6 L330.0 279.6 L331.0 279.6 L332.0 279.6 L333.0 279.6 L334.0 279.6 L335.0 279.6 L336.0 279.6 L337.0 279.6 L338.0 279.6 L339.0 279.6 L340.0 279.6 L341.0 279.6 L342.0 279.6 L343.0 279.6 L344.0 279.6 L345.0 279.6 L346.0 279.6 L347.0 279.6 L348.0 279.6 L349.0 279.6 L350.0 279.6 L351.0 279.6 L352.0 279.6 L353.0 279.6 L354.0 279.6 L355.0 279.6 L356.0 279.6 L357.0 279.6 L358.0 279.6 L359.0 279.6 L360.0 279.6 L361.0 279.6 L362.0 279.6 L363.0 279.6 L364.0 279.6 L365.0 279.6 L366.0 279.6 L367.0 279.6 L368.0 279.6 L369.0 279.6 L370.0 279.6 L371.0 279.6 L372.0 279.6 L373.0 279.6 L374.0 279.6 L375.0 279.6 L376.0 279.6 L377.0 279.6 L378.0 279.6 L379.0 279.6 L380.0 279.6 L381.0 279.6 L382.0 279.6 L383.0 279.6 L384.0 279.6 L385.0 279.6 L386.0 279.6 L387.0 279.6 L388.0 279.6 L389.0 279.6 L390.0 279.6 L391.0 279.6 L392.0 279.6 L393.0 279.6 L394.0 279.6 L394.4 279.6" fill="none" stroke="#ff3a10" stroke-width="1.9" stroke-dasharray="1.25 2.0" clip-path="url(#c3)"/>
<path d="M41.4 275.0 L42.4 275.1 L43.4 275.3 L44.4 275.4 L45.4 275.6 L46.4 275.7 L47.4 275.8 L48.4 275.9 L49.4 276.0 L50.4 276.0 L51.4 276.0 L52.4 276.0 L53.4 276.0 L54.4 276.0 L55.4 276.0 L56.4 276.0 L57.4 276.0 L58.4 276.0 L59.4 276.0 L60.4 276.0 L61.4 276.0 L62.4 276.0 L63.4 276.0 L64.4 276.0 L65.4 276.0 L66.4 276.0 L67.4 276.0 L68.4 276.0 L69.4 276.0 L70.4 276.0 L71.4 276.0 L72.4 276.0 L73.4 276.1 L74.4 276.1 L75.4 276.2 L76.4 276.3 L77.4 276.4 L78.4 276.4 L79.4 276.5 L80.4 276.6 L81.4 276.6 L82.4 276.7 L83.4 276.7 L84.4 276.7 L85.4 276.8 L86.4 276.8 L87.4 276.8 L88.4 276.9 L89.4 276.9 L90.4 277.0 L91.4 277.0 L92.4 277.1 L93.4 277.2 L94.4 277.2 L95.4 277.3 L96.4 277.4 L97.4 277.5 L98.4 277.6 L99.4 277.7 L100.4 277.8 L101.4 277.9 L102.4 277.9 L103.4 278.0 L104.4 278.0 L105.4 278.0 L106.4 278.0 L107.4 277.9 L108.4 277.9 L109.4 277.8 L110.4 277.7 L111.4 277.7 L112.4 277.6 L113.4 277.5 L114.4 277.5 L115.4 277.4 L116.4 277.4 L117.4 277.4 L118.4 277.5 L119.4 277.6 L120.4 277.8 L121.4 278.0 L122.4 278.1 L123.4 278.2 L124.4 278.2 L125.4 278.2 L126.4 278.2 L127.4 278.2 L128.4 278.2 L129.4 278.2 L130.4 278.2 L131.4 278.2 L132.4 278.2 L133.4 278.1 L134.4 278.1 L135.4 278.1 L136.4 278.1 L137.4 278.1 L138.4 278.1 L139.4 278.1 L140.4 278.0 L141.4 278.0 L142.4 278.0 L143.4 278.0 L144.4 278.0 L145.4 278.0 L146.4 278.0 L147.4 277.9 L148.4 277.9 L149.4 277.9 L150.4 277.9 L151.4 277.8 L152.4 277.8 L153.4 277.8 L154.4 277.8 L155.4 277.7 L156.4 277.7 L157.4 277.7 L158.4 277.7 L159.4 277.6 L160.4 277.6 L161.4 277.6 L162.4 277.6 L163.4 277.6 L164.4 277.6 L165.4 277.7 L166.4 277.8 L167.4 278.0 L168.4 278.2 L169.4 278.4 L170.4 278.6 L171.4 278.8 L172.4 278.9 L173.4 279.0 L174.4 279.0 L175.4 279.0 L176.4 278.9 L177.4 278.9 L178.4 278.8 L179.4 278.8 L180.4 278.7 L181.4 278.7 L182.4 278.6 L183.4 278.6 L184.4 278.6 L185.4 278.6 L186.4 278.6 L187.4 278.7 L188.4 278.7 L189.4 278.7 L190.4 278.8 L191.4 278.8 L192.4 278.9 L193.4 279.0 L194.4 279.0 L195.4 279.1 L196.4 279.1 L197.4 279.2 L198.4 279.2 L199.4 279.3 L200.4 279.3 L201.4 279.4 L202.4 279.4 L203.4 279.4 L204.4 279.4 L205.4 279.4 L206.4 279.4 L207.4 279.4 L208.4 279.4 L209.4 279.4 L210.4 279.4 L211.4 279.4 L212.4 279.4 L213.4 279.3 L214.4 279.3 L215.4 279.3 L216.4 279.3 L217.4 279.3 L218.4 279.3 L219.4 279.3 L220.4 279.3 L221.4 279.3 L222.4 279.2 L223.4 279.2 L224.4 279.2 L225.4 279.2 L226.4 279.2 L227.4 279.2 L228.4 279.2 L229.4 279.2 L230.4 279.2 L231.4 279.2 L232.4 279.2 L233.4 279.2 L234.4 279.2 L235.4 279.2 L236.4 279.2 L237.4 279.2 L238.4 279.2 L239.4 279.2 L240.4 279.2 L241.4 279.2 L242.4 279.2 L243.4 279.2 L244.4 279.2 L245.4 279.2 L246.4 279.3 L247.4 279.3 L248.4 279.3 L249.4 279.3 L250.4 279.3 L251.4 279.3 L252.4 279.3 L253.4 279.3 L254.4 279.3 L255.4 279.3 L256.4 279.3 L257.4 279.3 L258.4 279.3 L259.4 279.4 L260.4 279.4 L261.4 279.4 L262.4 279.4 L263.4 279.4 L264.4 279.4 L265.4 279.4 L266.4 279.4 L267.4 279.4 L268.4 279.4 L269.4 279.4 L270.4 279.4 L271.4 279.5 L272.4 279.5 L273.4 279.5 L274.4 279.5 L275.4 279.5 L276.4 279.5 L277.4 279.5 L278.4 279.5 L279.4 279.5 L280.4 279.5 L281.4 279.5 L282.4 279.5 L283.4 279.5 L284.4 279.5 L285.4 279.6 L286.4 279.6 L287.4 279.6 L288.4 279.6 L289.4 279.6 L290.4 279.6 L291.4 279.6 L292.4 279.6 L293.4 279.6 L294.4 279.6 L295.4 279.6 L296.4 279.6 L297.4 279.6 L298.4 279.6 L299.4 279.6 L300.4 279.6 L301.4 279.6 L302.4 279.6 L303.4 279.6 L304.4 279.6 L305.4 279.6 L306.4 279.6 L307.4 279.6 L308.4 279.6 L309.4 279.6 L310.4 279.6 L311.4 279.6 L312.4 279.6 L313.4 279.6 L314.4 279.6 L315.4 279.6 L316.4 279.6 L317.4 279.6 L318.4 279.6 L319.4 279.6 L320.4 279.6 L321.4 279.6 L322.4 279.6 L323.4 279.6 L324.4 279.6 L325.4 279.6 L326.4 279.6 L327.4 279.6 L328.4 279.6 L329.4 279.6 L330.4 279.6 L331.4 279.6 L332.4 279.6 L333.4 279.6 L334.4 279.6 L335.4 279.6 L336.4 279.6 L337.4 279.6 L338.4 279.6 L339.4 279.6 L340.4 279.6 L341.4 279.6 L342.4 279.6 L343.4 279.6 L344.4 279.6 L345.4 279.6 L346.4 279.6 L347.4 279.6 L348.4 279.6 L349.4 279.6 L350.4 279.6 L351.4 279.6 L352.4 279.6 L353.4 279.6 L354.4 279.6 L355.4 279.6 L356.4 279.6 L357.4 279.6 L358.4 279.6 L359.4 279.6 L360.4 279.6 L361.4 279.6 L362.4 279.6 L363.4 279.6 L364.4 279.6 L365.4 279.6 L366.4 279.6 L367.4 279.6 L368.4 279.6 L369.4 279.6 L370.4 279.6 L371.4 279.6 L372.4 279.6 L373.4 279.6 L374.4 279.6 L375.4 279.6 L376.4 279.6 L377.4 279.6 L378.4 279.6 L379.4 279.6 L380.4 279.6 L381.4 279.6 L382.4 279.6 L383.4 279.6 L384.4 279.6 L385.4 279.6 L386.4 279.6 L387.4 279.6 L388.4 279.6 L389.4 279.6 L390.4 279.6 L391.4 279.6 L392.4 279.6 L393.4 279.6 L394.4 279.6" fill="none" stroke="#1030ff" stroke-width="1.9" stroke-dasharray="5.2 4.2" clip-path="url(#c3)"/>
<path d="M41.4 341.3 L42.4 341.3 L43.4 341.3 L44.4 341.3 L45.4 341.3 L46.4 341.3 L47.4 341.3 L48.4 341.3 L49.4 341.3 L50.4 341.3 L51.4 341.3 L52.4 341.3 L53.4 341.3 L54.4 341.3 L55.4 341.3 L56.4 341.3 L57.4 341.3 L58.4 341.3 L59.4 341.2 L60.4 341.2 L61.4 341.2 L62.4 341.2 L63.4 341.2 L64.4 341.2 L65.4 341.2 L66.4 341.2 L67.4 341.2 L68.4 341.2 L69.4 341.2 L70.4 341.2 L71.4 341.2 L72.4 341.2 L73.4 341.2 L74.4 341.2 L75.4 341.2 L76.4 341.2 L77.4 341.2 L78.4 341.2 L79.4 341.2 L80.4 341.2 L81.4 341.2 L82.4 341.2 L83.4 341.2 L84.4 341.2 L85.4 341.2 L86.4 341.2 L87.4 341.2 L88.4 341.2 L89.4 341.2 L90.4 341.2 L91.4 341.2 L92.4 341.2 L93.4 341.2 L94.4 341.2 L95.4 341.2 L96.4 341.2 L97.4 341.2 L98.4 341.2 L99.4 341.2 L100.4 341.2 L101.4 341.2 L102.4 341.2 L103.4 341.2 L104.4 341.2 L105.4 341.2 L106.4 341.2 L107.4 341.2 L108.4 341.2 L109.4 341.2 L110.4 341.2 L111.4 341.2 L112.4 341.2 L113.4 341.2 L114.4 341.2 L115.4 341.2 L116.4 341.2 L117.4 341.2 L118.4 341.2 L119.4 341.2 L120.4 341.2 L121.4 341.2 L122.4 341.2 L123.4 341.2 L124.4 341.2 L125.4 341.2 L126.4 341.2 L127.4 341.2 L128.4 341.2 L129.4 341.2 L130.4 341.2 L131.4 341.2 L132.4 341.2 L133.4 341.2 L134.4 341.2 L135.4 341.2 L136.4 341.2 L137.4 341.2 L138.4 341.2 L139.4 341.2 L140.4 341.2 L141.4 341.2 L142.4 341.2 L143.4 341.2 L144.4 341.2 L145.4 341.2 L146.4 341.2 L147.4 341.2 L148.4 341.2 L149.4 341.2 L150.4 341.2 L151.4 341.2 L152.4 341.3 L153.4 341.3 L154.4 341.3 L155.4 341.3 L156.4 341.3 L157.4 341.3 L158.4 341.3 L159.4 341.3 L160.4 341.3 L161.4 341.3 L162.4 341.3 L163.4 341.3 L164.4 341.3 L165.4 341.3 L166.4 341.3 L167.4 341.3 L168.4 341.3 L169.4 341.3 L170.4 341.3 L171.4 341.3 L172.4 341.4 L173.4 341.4 L174.4 341.4 L175.4 341.4 L176.4 341.4 L177.4 341.4 L178.4 341.4 L179.4 341.4 L180.4 341.4 L181.4 341.4 L182.4 341.4 L183.4 341.4 L184.4 341.4 L185.4 341.5 L186.4 341.5 L187.4 341.5 L188.4 341.5 L189.4 341.5 L190.4 341.5 L191.4 341.5 L192.4 341.5 L193.4 341.5 L194.4 341.5 L195.4 341.5 L196.4 341.6 L197.4 341.6 L198.4 341.6 L199.4 341.6 L200.4 341.6 L201.4 341.6 L202.4 341.6 L203.4 341.7 L204.4 341.7 L205.4 341.7 L206.4 341.8 L207.4 341.8 L208.4 341.9 L209.4 341.9 L210.4 342.0 L211.4 342.0 L212.4 342.1 L213.4 342.2 L214.4 342.2 L215.4 342.3 L216.4 342.4 L217.4 342.4 L218.4 342.5 L219.4 342.6 L220.4 342.6 L221.4 342.7 L222.4 342.8 L223.4 342.9 L224.4 343.0 L225.4 343.1 L226.4 343.2 L227.4 343.3 L228.4 343.4 L229.4 343.5 L230.4 343.6 L231.4 343.7 L232.4 343.8 L233.4 343.9 L234.4 344.0 L235.4 344.1 L236.4 344.2 L237.4 344.3 L238.4 344.4 L239.4 344.5 L240.4 344.7 L241.4 344.8 L242.4 344.9 L243.4 345.1 L244.4 345.3 L245.4 345.4 L246.4 345.6 L247.4 345.9 L248.4 346.1 L249.4 346.4 L250.4 346.8 L251.0 347.0 M255.2 236.5 L256.2 237.7 L257.2 238.6 L258.2 239.6 L259.2 240.6 L260.2 241.9 L261.2 243.3 L262.2 244.9 L263.2 246.8 L264.2 248.8 L265.2 250.9 L266.2 253.1 L267.2 255.3 L268.2 257.5 L269.2 259.6 L270.2 261.7 L271.2 263.5 L272.2 265.0 L273.2 266.4 L274.2 267.6 L275.2 268.7 L276.2 269.8 L277.2 270.7 L278.2 271.5 L279.2 272.2 L280.2 272.9 L281.2 273.5 L282.2 274.1 L283.2 274.7 L284.2 275.2 L285.2 275.7 L286.2 276.0 L287.2 276.3 L288.2 276.6 L289.2 276.8 L290.2 277.0 L291.2 277.2 L292.2 277.4 L293.2 277.6 L294.2 277.8 L295.2 278.0 L296.2 278.2 L297.2 278.4 L298.2 278.6 L299.2 278.7 L300.2 278.8 L301.2 278.9 L302.2 279.0 L303.2 279.1 L304.2 279.2 L305.2 279.3 L306.2 279.4 L307.2 279.4 L308.2 279.5 L309.2 279.5 L310.2 279.5 L311.2 279.5 L312.2 279.5 L313.2 279.5 L314.2 279.5 L315.2 279.5 L316.2 279.5 L317.2 279.5 L318.2 279.5 L319.2 279.5 L320.2 279.5 L321.2 279.5 L322.2 279.5 L323.2 279.5 L324.2 279.5 L325.2 279.5 L326.2 279.5 L327.2 279.5 L328.2 279.5 L329.2 279.5 L330.2 279.6 L331.2 279.6 L332.2 279.6 L333.2 279.6 L334.2 279.6 L335.2 279.6 L336.2 279.6 L337.2 279.6 L338.2 279.6 L339.2 279.6 L340.2 279.6 L341.2 279.6 L342.2 279.6 L343.2 279.6 L344.2 279.6 L345.2 279.6 L346.2 279.6 L347.2 279.6 L348.2 279.6 L349.2 279.6 L350.2 279.6 L351.2 279.6 L352.2 279.6 L353.2 279.6 L354.2 279.6 L355.2 279.6 L356.2 279.6 L357.2 279.6 L358.2 279.6 L359.2 279.6 L360.2 279.6 L361.2 279.6 L362.2 279.6 L363.2 279.6 L364.2 279.6 L365.2 279.6 L366.2 279.6 L367.2 279.6 L368.2 279.6 L369.2 279.6 L370.2 279.6 L371.2 279.6 L372.2 279.6 L373.2 279.6 L374.2 279.6 L375.2 279.6 L376.2 279.6 L377.2 279.6 L378.2 279.6 L379.2 279.6 L380.2 279.6 L381.2 279.6 L382.2 279.6 L383.2 279.6 L384.2 279.6 L385.2 279.6 L386.2 279.6 L387.2 279.6 L388.2 279.6 L389.2 279.6 L390.2 279.6 L391.2 279.6 L392.2 279.6 L393.2 279.6 L394.2 279.6 L394.4 279.6" fill="none" stroke="#14f864" stroke-width="1.9" stroke-dasharray="4.8 1.95 1.7 1.95" clip-path="url(#c3)"/>
<path d="M41.4 284.7 L42.4 284.7 L43.4 284.7 L44.4 284.7 L45.4 284.7 L46.4 284.7 L47.4 284.7 L48.4 284.7 L49.4 284.7 L50.4 284.7 L51.4 284.7 L52.4 284.7 L53.4 284.7 L54.4 284.7 L55.4 284.7 L56.4 284.7 L57.4 284.7 L58.4 284.7 L59.4 284.7 L60.4 284.7 L61.4 284.7 L62.4 284.7 L63.4 284.7 L64.4 284.7 L65.4 284.7 L66.4 284.7 L67.4 284.7 L68.4 284.7 L69.4 284.7 L70.4 284.7 L71.4 284.7 L72.4 284.7 L73.4 284.7 L74.4 284.7 L75.4 284.7 L76.4 284.7 L77.4 284.7 L78.4 284.6 L79.4 284.6 L80.4 284.6 L81.4 284.6 L82.4 284.6 L83.4 284.6 L84.4 284.6 L85.4 284.6 L86.4 284.6 L87.4 284.6 L88.4 284.6 L89.4 284.6 L90.4 284.6 L91.4 284.6 L92.4 284.6 L93.4 284.6 L94.4 284.6 L95.4 284.6 L96.4 284.6 L97.4 284.6 L98.4 284.6 L99.4 284.6 L100.4 284.6 L101.4 284.6 L102.4 284.6 L103.4 284.6 L104.4 284.6 L105.4 284.6 L106.4 284.6 L107.4 284.6 L108.4 284.6 L109.4 284.6 L110.4 284.5 L111.4 284.5 L112.4 284.5 L113.4 284.5 L114.4 284.5 L115.4 284.5 L116.4 284.5 L117.4 284.5 L118.4 284.5 L119.4 284.5 L120.4 284.5 L121.4 284.5 L122.4 284.5 L123.4 284.5 L124.4 284.5 L125.4 284.5 L126.4 284.5 L127.4 284.5 L128.4 284.5 L129.4 284.5 L130.4 284.5 L131.4 284.5 L132.4 284.5 L133.4 284.5 L134.4 284.5 L135.4 284.5 L136.4 284.5 L137.4 284.4 L138.4 284.4 L139.4 284.4 L140.4 284.4 L141.4 284.4 L142.4 284.4 L143.4 284.4 L144.4 284.4 L145.4 284.4 L146.4 284.4 L147.4 284.4 L148.4 284.4 L149.4 284.4 L150.4 284.4 L151.4 284.4 L152.4 284.4 L153.4 284.4 L154.4 284.4 L155.4 284.4 L156.4 284.4 L157.4 284.4 L158.4 284.3 L159.4 284.3 L160.4 284.3 L161.4 284.3 L162.4 284.3 L163.4 284.3 L164.4 284.3 L165.4 284.3 L166.4 284.3 L167.4 284.3 L168.4 284.3 L169.4 284.3 L170.4 284.3 L171.4 284.3 L172.4 284.3 L173.4 284.2 L174.4 284.2 L175.4 284.2 L176.4 284.2 L177.4 284.2 L178.4 284.2 L179.4 284.2 L180.4 284.2 L181.4 284.2 L182.4 284.2 L183.4 284.2 L184.4 284.2 L185.4 284.1 L186.4 284.1 L187.4 284.1 L188.4 284.1 L189.4 284.1 L190.4 284.1 L191.4 284.1 L192.4 284.1 L193.4 284.1 L194.4 284.1 L195.4 284.0 L196.4 284.0 L197.4 284.0 L198.4 284.0 L199.4 284.0 L200.4 284.0 L201.4 284.0 L202.4 284.0 L203.4 283.9 L204.4 283.9 L205.4 283.9 L206.4 283.9 L207.4 283.9 L208.4 283.9 L209.4 283.9 L210.4 283.8 L211.4 283.8 L212.4 283.8 L213.4 283.8 L214.4 283.7 L215.4 283.7 L216.4 283.7 L217.4 283.6 L218.4 283.6 L219.4 283.5 L220.4 283.5 L221.4 283.5 L222.4 283.4 L223.4 283.4 L224.4 283.3 L225.4 283.3 L226.4 283.3 L227.4 283.2 L228.4 283.2 L229.4 283.1 L230.4 283.1 L231.4 283.0 L232.4 283.0 L233.4 283.0 L234.4 282.9 L235.4 282.9 L236.4 282.8 L237.4 282.8 L238.4 282.7 L239.4 282.7 L240.4 282.6 L241.4 282.5 L242.4 282.5 L243.4 282.4 L244.4 282.4 L245.4 282.3 L246.4 282.3 L247.4 282.2 L248.4 282.2 L249.4 282.1 L250.4 282.1 L251.4 282.0 L252.4 282.0 L253.4 281.9 L254.4 281.9 L255.4 281.8 L256.4 281.8 L257.4 281.7 L258.4 281.7 L259.4 281.6 L260.4 281.6 L261.4 281.5 L262.4 281.5 L263.4 281.4 L264.4 281.4 L265.4 281.3 L266.4 281.3 L267.4 281.2 L268.4 281.2 L269.4 281.1 L270.4 281.1 L271.4 281.0 L272.4 281.0 L273.4 280.9 L274.4 280.9 L275.4 280.8 L276.4 280.7 L277.4 280.7 L278.4 280.6 L279.4 280.6 L280.4 280.5 L281.4 280.5 L282.4 280.4 L283.4 280.4 L284.4 280.3 L285.4 280.3 L286.4 280.2 L287.4 280.2 L288.4 280.1 L289.4 280.1 L290.4 280.1 L291.4 280.1 L292.4 280.0 L293.4 280.0 L294.4 280.0 L295.4 280.0 L296.4 280.0 L297.4 279.9 L298.4 279.9 L299.4 279.9 L300.4 279.9 L301.4 279.9 L302.4 279.9 L303.4 279.9 L304.4 279.8 L305.4 279.8 L306.4 279.8 L307.4 279.8 L308.4 279.8 L309.4 279.8 L310.4 279.8 L311.4 279.8 L312.4 279.8 L313.4 279.8 L314.4 279.8 L315.4 279.8 L316.4 279.8 L317.4 279.8 L318.4 279.8 L319.4 279.8 L320.4 279.8 L321.4 279.7 L322.4 279.7 L323.4 279.7 L324.4 279.7 L325.4 279.7 L326.4 279.7 L327.4 279.7 L328.4 279.7 L329.4 279.7 L330.4 279.7 L331.4 279.7 L332.4 279.7 L333.4 279.7 L334.4 279.7 L335.4 279.7 L336.4 279.7 L337.4 279.7 L338.4 279.7 L339.4 279.7 L340.4 279.7 L341.4 279.7 L342.4 279.7 L343.4 279.7 L344.4 279.7 L345.4 279.7 L346.4 279.7 L347.4 279.7 L348.4 279.7 L349.4 279.7 L350.4 279.7 L351.4 279.7 L352.4 279.6 L353.4 279.6 L354.4 279.6 L355.4 279.6 L356.4 279.6 L357.4 279.6 L358.4 279.6 L359.4 279.6 L360.4 279.6 L361.4 279.6 L362.4 279.6 L363.4 279.6 L364.4 279.6 L365.4 279.6 L366.4 279.6 L367.4 279.6 L368.4 279.6 L369.4 279.6 L370.4 279.6 L371.4 279.6 L372.4 279.6 L373.4 279.6 L374.4 279.6 L375.4 279.6 L376.4 279.6 L377.4 279.6 L378.4 279.6 L379.4 279.6 L380.4 279.6 L381.4 279.6 L382.4 279.6 L383.4 279.6 L384.4 279.6 L385.4 279.6 L386.4 279.6 L387.4 279.6 L388.4 279.6 L389.4 279.6 L390.4 279.6 L391.4 279.6 L392.4 279.6 L393.4 279.6 L394.4 279.6" fill="none" stroke="#7a10ff" stroke-width="1.9" stroke-dasharray="7.2 2.1 1.5 2.0 1.5 2.0 1.5 2.1" clip-path="url(#c3)"/>
</g>
<rect x="41.4" y="4.1" width="353.0" height="111.4" fill="none" stroke="#111" stroke-width="1.1"/><rect x="41.4" y="119.6" width="353.0" height="111.5" fill="none" stroke="#111" stroke-width="1.1"/><rect x="41.4" y="235.4" width="353.0" height="111.5" fill="none" stroke="#111" stroke-width="1.1"/>
<path d="M62.9 115.5 v-1.3 M62.9 4.1 v1.3 M81.0 115.5 v-1.3 M81.0 4.1 v1.3 M96.8 115.5 v-1.3 M96.8 4.1 v1.3 M110.7 115.5 v-1.3 M110.7 4.1 v1.3 M123.1 115.5 v-2.4 M123.1 4.1 v2.4 M204.8 115.5 v-1.3 M204.8 4.1 v1.3 M252.5 115.5 v-1.3 M252.5 4.1 v1.3 M286.4 115.5 v-1.3 M286.4 4.1 v1.3 M312.7 115.5 v-1.3 M312.7 4.1 v1.3 M334.2 115.5 v-1.3 M334.2 4.1 v1.3 M352.4 115.5 v-1.3 M352.4 4.1 v1.3 M368.1 115.5 v-1.3 M368.1 4.1 v1.3 M382.0 115.5 v-1.3 M382.0 4.1 v1.3 M62.9 231.1 v-1.3 M62.9 119.6 v1.3 M81.0 231.1 v-1.3 M81.0 119.6 v1.3 M96.8 231.1 v-1.3 M96.8 119.6 v1.3 M110.7 231.1 v-1.3 M110.7 119.6 v1.3 M123.1 231.1 v-2.4 M123.1 119.6 v2.4 M204.8 231.1 v-1.3 M204.8 119.6 v1.3 M252.5 231.1 v-1.3 M252.5 119.6 v1.3 M286.4 231.1 v-1.3 M286.4 119.6 v1.3 M312.7 231.1 v-1.3 M312.7 119.6 v1.3 M334.2 231.1 v-1.3 M334.2 119.6 v1.3 M352.4 231.1 v-1.3 M352.4 119.6 v1.3 M368.1 231.1 v-1.3 M368.1 119.6 v1.3 M382.0 231.1 v-1.3 M382.0 119.6 v1.3 M62.9 346.9 v-1.3 M62.9 235.4 v1.3 M81.0 346.9 v-1.3 M81.0 235.4 v1.3 M96.8 346.9 v-1.3 M96.8 235.4 v1.3 M110.7 346.9 v-1.3 M110.7 235.4 v1.3 M123.1 346.9 v-2.4 M123.1 235.4 v2.4 M204.8 346.9 v-1.3 M204.8 235.4 v1.3 M252.5 346.9 v-1.3 M252.5 235.4 v1.3 M286.4 346.9 v-1.3 M286.4 235.4 v1.3 M312.7 346.9 v-1.3 M312.7 235.4 v1.3 M334.2 346.9 v-1.3 M334.2 235.4 v1.3 M352.4 346.9 v-1.3 M352.4 235.4 v1.3 M368.1 346.9 v-1.3 M368.1 235.4 v1.3 M382.0 346.9 v-1.3 M382.0 235.4 v1.3 M41.4 82.0 h3.4 M394.4 82.0 h-3.4 M41.4 62.3 h3.4 M394.4 62.3 h-3.4 M41.4 48.4 h3.4 M394.4 48.4 h-3.4 M41.4 37.6 h3.4 M394.4 37.6 h-3.4 M41.4 28.8 h3.4 M394.4 28.8 h-3.4 M41.4 21.4 h3.4 M394.4 21.4 h-3.4 M41.4 14.9 h3.4 M394.4 14.9 h-3.4 M41.4 9.2 h3.4 M394.4 9.2 h-3.4 M41.4 212.5 h7 M394.4 212.5 h-7 M41.4 193.9 h7 M394.4 193.9 h-7 M41.4 175.3 h7 M394.4 175.3 h-7 M41.4 156.8 h7 M394.4 156.8 h-7 M41.4 138.2 h7 M394.4 138.2 h-7 M41.4 227.4 h3.4 M394.4 227.4 h-3.4 M41.4 223.7 h3.4 M394.4 223.7 h-3.4 M41.4 219.9 h3.4 M394.4 219.9 h-3.4 M41.4 216.2 h3.4 M394.4 216.2 h-3.4 M41.4 208.8 h3.4 M394.4 208.8 h-3.4 M41.4 205.1 h3.4 M394.4 205.1 h-3.4 M41.4 201.4 h3.4 M394.4 201.4 h-3.4 M41.4 197.6 h3.4 M394.4 197.6 h-3.4 M41.4 190.2 h3.4 M394.4 190.2 h-3.4 M41.4 186.5 h3.4 M394.4 186.5 h-3.4 M41.4 182.8 h3.4 M394.4 182.8 h-3.4 M41.4 179.1 h3.4 M394.4 179.1 h-3.4 M41.4 171.6 h3.4 M394.4 171.6 h-3.4 M41.4 167.9 h3.4 M394.4 167.9 h-3.4 M41.4 164.2 h3.4 M394.4 164.2 h-3.4 M41.4 160.5 h3.4 M394.4 160.5 h-3.4 M41.4 153.1 h3.4 M394.4 153.1 h-3.4 M41.4 149.3 h3.4 M394.4 149.3 h-3.4 M41.4 145.6 h3.4 M394.4 145.6 h-3.4 M41.4 141.9 h3.4 M394.4 141.9 h-3.4 M41.4 134.5 h3.4 M394.4 134.5 h-3.4 M41.4 130.8 h3.4 M394.4 130.8 h-3.4 M41.4 127.0 h3.4 M394.4 127.0 h-3.4 M41.4 123.3 h3.4 M394.4 123.3 h-3.4 M41.4 315.9 h7 M394.4 315.9 h-7 M41.4 285.0 h7 M394.4 285.0 h-7 M41.4 254.0 h7 M394.4 254.0 h-7 M41.4 340.7 h3.4 M394.4 340.7 h-3.4 M41.4 334.5 h3.4 M394.4 334.5 h-3.4 M41.4 328.3 h3.4 M394.4 328.3 h-3.4 M41.4 322.1 h3.4 M394.4 322.1 h-3.4 M41.4 309.7 h3.4 M394.4 309.7 h-3.4 M41.4 303.5 h3.4 M394.4 303.5 h-3.4 M41.4 297.3 h3.4 M394.4 297.3 h-3.4 M41.4 291.1 h3.4 M394.4 291.1 h-3.4 M41.4 278.8 h3.4 M394.4 278.8 h-3.4 M41.4 272.6 h3.4 M394.4 272.6 h-3.4 M41.4 266.4 h3.4 M394.4 266.4 h-3.4 M41.4 260.2 h3.4 M394.4 260.2 h-3.4 M41.4 247.8 h3.4 M394.4 247.8 h-3.4 M41.4 241.6 h3.4 M394.4 241.6 h-3.4" stroke="#111" stroke-width="0.9" fill="none"/>
<g class="lab">
<text x="37.9" y="11.6" text-anchor="end" class="tl">10</text>
<text x="37.9" y="115.8" text-anchor="end" class="tl">1</text>
<text x="37.9" y="127.1" text-anchor="end" class="tl">30</text>
<text x="37.9" y="142.4" text-anchor="end" class="tl">25</text>
<text x="37.9" y="160.9" text-anchor="end" class="tl">20</text>
<text x="37.9" y="179.5" text-anchor="end" class="tl">15</text>
<text x="37.9" y="198.1" text-anchor="end" class="tl">10</text>
<text x="37.9" y="216.7" text-anchor="end" class="tl">5</text>
<text x="37.9" y="231.9" text-anchor="end" class="tl">0</text>
<text x="37.9" y="258.2" text-anchor="end" class="tl">150</text>
<text x="37.9" y="289.1" text-anchor="end" class="tl">100</text>
<text x="37.9" y="320.1" text-anchor="end" class="tl">50</text>
<text x="37.9" y="347.7" text-anchor="end" class="tl">0</text>
<text x="123.4" y="362" text-anchor="middle" class="tl">1</text>
<text x="394.9" y="362" text-anchor="middle" class="tl">10</text>
<text x="217.8" y="375" text-anchor="middle" class="tt" style="letter-spacing:0.25px;word-spacing:1.8px;stroke-width:0.5px">E (keV)</text>
<text transform="translate(16.2,59.0) rotate(-90)" text-anchor="middle" class="tt" style="word-spacing:1px">E I<tspan dy="2.4" font-size="6.8">E</tspan></text>
<text transform="translate(16.4,173) rotate(-90)" text-anchor="middle" class="tt">Pol. Fraction (%)</text>
<text transform="translate(10.2,291) rotate(-90)" text-anchor="middle" class="tt">Pol. Angle</text>
</g>
</svg>
</body></html>
